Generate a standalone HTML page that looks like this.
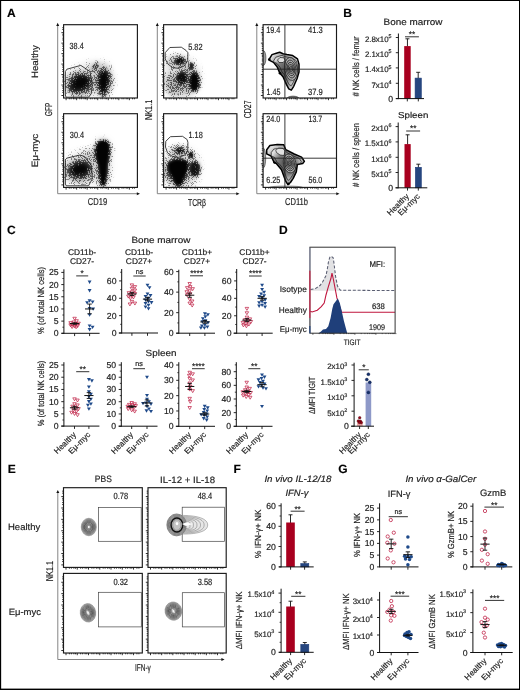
<!DOCTYPE html>
<html><head><meta charset="utf-8"><style>
html,body{margin:0;padding:0;background:#fff;}
text{stroke:#222;stroke-width:0.18px;}
svg{display:block;font-family:"Liberation Sans",sans-serif;will-change:transform;text-rendering:geometricPrecision;}
</style></head><body>
<svg width="520" height="690" viewBox="0 0 520 690" fill="#222">
<defs>
<filter id="b15" x="-50%" y="-50%" width="200%" height="200%"><feGaussianBlur stdDeviation="1.5"/></filter>
<filter id="b12" x="-50%" y="-50%" width="200%" height="200%"><feGaussianBlur stdDeviation="1.2"/></filter>
<filter id="b1" x="-50%" y="-50%" width="200%" height="200%"><feGaussianBlur stdDeviation="0.9"/></filter>
<filter id="g1" x="-100%" y="-100%" width="300%" height="300%"><feGaussianBlur stdDeviation="1"/></filter>
<filter id="g15" x="-100%" y="-100%" width="300%" height="300%"><feGaussianBlur stdDeviation="1.5"/></filter>
<filter id="g2" x="-100%" y="-100%" width="300%" height="300%"><feGaussianBlur stdDeviation="2"/></filter>
<filter id="g25" x="-100%" y="-100%" width="300%" height="300%"><feGaussianBlur stdDeviation="2.5"/></filter>
<filter id="g3" x="-100%" y="-100%" width="300%" height="300%"><feGaussianBlur stdDeviation="3"/></filter>
<filter id="dith" filterUnits="userSpaceOnUse" x="0" y="0" width="520" height="690" color-interpolation-filters="sRGB">
  <feGaussianBlur in="SourceGraphic" stdDeviation="0.4" result="d"/>
  <feTurbulence type="fractalNoise" baseFrequency="1.13 0.97" numOctaves="1" seed="3" result="n"/>
  <feColorMatrix in="n" type="matrix" values="0 0 0 0 0  0 0 0 0 0  0 0 0 0 0  3 0 0 0 -1" result="na"/>
  <feComposite in="d" in2="na" operator="arithmetic" k1="0" k2="7" k3="-6" k4="0.3" result="t"/>
  <feComponentTransfer in="d" result="m"><feFuncA type="linear" slope="40" intercept="-0.2"/></feComponentTransfer>
  <feComposite in="t" in2="m" operator="in" result="t2"/>
  <feComposite in="t2" in2="d" operator="arithmetic" k1="0" k2="0.38" k3="0.62" k4="0" result="mx"/>
  <feColorMatrix in="mx" type="matrix" values="0 0 0 0 0  0 0 0 0 0  0 0 0 0 0  0 0 0 1 0"/>
</filter>
<radialGradient id="gA" cx="0.65" cy="0.5" r="0.65"><stop offset="0" stop-color="#8a8a8a"/><stop offset="0.6" stop-color="#a8a8a8"/><stop offset="1" stop-color="#e0e0e0"/></radialGradient>
<radialGradient id="gE" cx="0.5" cy="0.5" r="0.5"><stop offset="0" stop-color="#fff"/><stop offset="0.12" stop-color="#ccc"/><stop offset="0.3" stop-color="#888"/><stop offset="0.6" stop-color="#7a7a7a"/><stop offset="0.85" stop-color="#a0a0a0"/><stop offset="1" stop-color="#d0d0d0"/></radialGradient>
<radialGradient id="terr" cx="0.5" cy="0.5" r="0.55"><stop offset="0" stop-color="#4a4a4a"/><stop offset="0.6" stop-color="#7e7e7e"/><stop offset="1" stop-color="#dedede"/></radialGradient>
<radialGradient id="gE3" cx="0.5" cy="0.5" r="0.5"><stop offset="0.5" stop-color="#777"/><stop offset="0.8" stop-color="#999"/><stop offset="1" stop-color="#ddd" stop-opacity="0.6"/></radialGradient>
<filter id="b05" x="-100%" y="-100%" width="300%" height="300%"><feGaussianBlur stdDeviation="0.5"/></filter>
<radialGradient id="gE2" cx="0.45" cy="0.5" r="0.6"><stop offset="0" stop-color="#bbb"/><stop offset="0.6" stop-color="#ccc"/><stop offset="1" stop-color="#eee"/></radialGradient>
<clipPath id="c1"><rect x="63.6" y="24.7" width="73.8" height="73.3"/></clipPath>
<clipPath id="c2"><rect x="63.6" y="113.7" width="73.8" height="73.7"/></clipPath>
<clipPath id="c3"><rect x="163.6" y="24.7" width="73.3" height="73.3"/></clipPath>
<clipPath id="c4"><rect x="163.6" y="113.7" width="73.3" height="73.7"/></clipPath>
<clipPath id="c5"><rect x="263.1" y="24.7" width="73.4" height="73.3"/></clipPath>
<clipPath id="c6"><rect x="263.1" y="113.7" width="73.4" height="73.7"/></clipPath>
</defs>
<rect x="0" y="0" width="520" height="690" fill="#fff"/>
<rect x="0" y="0" width="520" height="1" fill="#000"/><rect x="0" y="0" width="1.15" height="690" fill="#000"/><rect x="519" y="0" width="1" height="690" fill="#000"/><rect x="0" y="688.6" width="520" height="1.4" fill="#000"/>
<text x="7" y="16.9" font-size="12" font-weight="bold" fill="#000">A</text>
<text x="343.2" y="17" font-size="12" font-weight="bold" fill="#000">B</text>
<text x="6.9" y="234.2" font-size="12" font-weight="bold" fill="#000">C</text>
<text x="279" y="234" font-size="12" font-weight="bold" fill="#000">D</text>
<text x="7.7" y="473" font-size="12" font-weight="bold" fill="#000">E</text>
<text x="233.4" y="473.4" font-size="12" font-weight="bold" fill="#000">F</text>
<text x="338.2" y="473.1" font-size="12" font-weight="bold" fill="#000">G</text>
<path d="M57.7 25.3 V193.7 H137.5" fill="none" stroke="#777" stroke-width="0.9"/>
<path d="M57.7 22.8 l-1.5 3.2 h3z" fill="#111"/>
<path d="M140 193.7 l-3.2 -1.5 v3z" fill="#111"/>
<path d="M157.3 25.3 V193.7 H237" fill="none" stroke="#777" stroke-width="0.9"/>
<path d="M157.3 22.8 l-1.5 3.2 h3z" fill="#111"/>
<path d="M239.5 193.7 l-3.2 -1.5 v3z" fill="#111"/>
<path d="M256.8 25.3 V193.7 H337" fill="none" stroke="#777" stroke-width="0.9"/>
<path d="M256.8 22.8 l-1.5 3.2 h3z" fill="#111"/>
<path d="M339.5 193.7 l-3.2 -1.5 v3z" fill="#111"/>
<text x="37.9" y="78.1" font-size="9.2" textLength="33" lengthAdjust="spacingAndGlyphs" transform="rotate(-90 37.9 78.1)">Healthy</text>
<text x="37.9" y="167.2" font-size="9.2" textLength="33.4" lengthAdjust="spacingAndGlyphs" transform="rotate(-90 37.9 167.2)">E&#956;-myc</text>
<text x="52.4" y="115.9" font-size="10" textLength="13.1" lengthAdjust="spacingAndGlyphs" transform="rotate(-90 52.4 115.9)">GFP</text>
<text x="151.6" y="120" font-size="10" textLength="20.2" lengthAdjust="spacingAndGlyphs" transform="rotate(-90 151.6 120)">NK1.1</text>
<text x="250.8" y="118.2" font-size="10" textLength="17.8" lengthAdjust="spacingAndGlyphs" transform="rotate(-90 250.8 118.2)">CD27</text>
<text x="87.8" y="205" font-size="10" textLength="19.3" lengthAdjust="spacingAndGlyphs">CD19</text>
<text x="188" y="205.6" font-size="10" textLength="18" lengthAdjust="spacingAndGlyphs">TCR&#946;</text>
<text x="285" y="205.2" font-size="10" textLength="23" lengthAdjust="spacingAndGlyphs">CD11b</text>
<g clip-path="url(#c1)">
<g filter="url(#dith)">
<ellipse cx="90" cy="80" rx="24" ry="17" fill-opacity="0.12" filter="url(#g3)"/>
<ellipse cx="98" cy="67" rx="12" ry="6" fill-opacity="0.14" filter="url(#g3)"/>
<ellipse cx="79.5" cy="84" rx="13.5" ry="12" fill-opacity="0.5" filter="url(#g3)"/>
<ellipse cx="81" cy="82.5" rx="9.5" ry="7.6" fill-opacity="0.92" filter="url(#g25)" transform="rotate(-15 81 82.5)"/>
<ellipse cx="74" cy="88" rx="6" ry="5" fill-opacity="0.5" filter="url(#g2)"/>
<ellipse cx="94.5" cy="67.5" rx="6.5" ry="2.6" fill-opacity="0.38" filter="url(#g15)" transform="rotate(-55 94.5 67.5)"/>
<ellipse cx="95.5" cy="66" rx="2.5" ry="1.2" fill-opacity="0.6" filter="url(#g1)" transform="rotate(-55 95.5 66)"/>
<ellipse cx="103.5" cy="81" rx="8" ry="15" fill-opacity="0.4" filter="url(#g3)"/>
<polygon points="98,77 101.5,70.5 105,69.5 109.5,75 109.5,82 106,92 104.5,97 102.5,97 99.5,90 97.5,84" fill-opacity="0.93" filter="url(#g2)"/>
</g>
</g>
<rect x="63.6" y="24.7" width="73.8" height="73.3" fill="none" stroke="#1a1a1a" stroke-width="1.15"/>
<path d="M63.6 95.5h-2.2M63.6 92.35h-1.3M63.6 90.5h-1.3M63.6 88.18h-1.3M63.6 86.65h-1.3M63.6 85.03h-2.2M63.6 81.88h-1.3M63.6 80.03h-1.3M63.6 77.71h-1.3M63.6 76.18h-1.3M63.6 74.56h-2.2M63.6 71.4h-1.3M63.6 69.56h-1.3M63.6 67.24h-1.3M63.6 65.71h-1.3M63.6 64.09h-2.2M63.6 60.93h-1.3M63.6 59.09h-1.3M63.6 56.77h-1.3M63.6 55.24h-1.3M63.6 53.61h-2.2M63.6 50.46h-1.3M63.6 48.62h-1.3M63.6 46.3h-1.3M63.6 44.76h-1.3M63.6 43.14h-2.2M63.6 39.99h-1.3M63.6 38.15h-1.3M63.6 35.82h-1.3M63.6 34.29h-1.3M63.6 32.67h-2.2M63.6 29.52h-1.3M63.6 27.68h-1.3M66.1 98v2.2M69.27 98v1.3M71.13 98v1.3M73.47 98v1.3M75.01 98v1.3M76.64 98v2.2M79.82 98v1.3M81.67 98v1.3M84.01 98v1.3M85.55 98v1.3M87.19 98v2.2M90.36 98v1.3M92.22 98v1.3M94.55 98v1.3M96.1 98v1.3M97.73 98v2.2M100.9 98v1.3M102.76 98v1.3M105.1 98v1.3M106.64 98v1.3M108.27 98v2.2M111.45 98v1.3M113.3 98v1.3M115.64 98v1.3M117.18 98v1.3M118.81 98v2.2M121.99 98v1.3M123.84 98v1.3M126.18 98v1.3M127.72 98v1.3M129.36 98v2.2M132.53 98v1.3M134.39 98v1.3" stroke="#1a1a1a" stroke-width="0.9"/>
<polygon points="65.4,71.5 66.9,69.2 80.8,65.4 90,71.5 92.3,84.6 91.2,93.8 88.5,97.2 66,97.2 65.4,95" fill="none" stroke="#222" stroke-width="0.85" stroke-linejoin="round"/>
<text x="69.6" y="49.2" font-size="9" textLength="14.1" lengthAdjust="spacingAndGlyphs">38.4</text>
<g clip-path="url(#c2)">
<g filter="url(#dith)">
<ellipse cx="88" cy="167" rx="24" ry="17" fill-opacity="0.12" filter="url(#g3)"/>
<ellipse cx="90" cy="157" rx="8" ry="7" fill-opacity="0.22" filter="url(#g3)"/>
<ellipse cx="79" cy="171" rx="14" ry="11.5" fill-opacity="0.5" filter="url(#g3)"/>
<ellipse cx="80" cy="169.5" rx="10" ry="7" fill-opacity="0.92" filter="url(#g25)" transform="rotate(-12 80 169.5)"/>
<ellipse cx="102.5" cy="152" rx="8.5" ry="13" fill-opacity="0.35" filter="url(#g3)"/>
<ellipse cx="102.5" cy="175" rx="6" ry="10" fill-opacity="0.35" filter="url(#g3)"/>
<polygon points="94.8,150 96.5,143.5 100.5,140 106,140 109.8,144 110,153 108.2,164 107,176 105.5,186 100.5,186 99.2,176 98,166 95.8,158" fill-opacity="0.97" filter="url(#g15)"/>
</g>
</g>
<rect x="63.6" y="113.7" width="73.8" height="73.7" fill="none" stroke="#1a1a1a" stroke-width="1.15"/>
<path d="M63.6 184.9h-2.2M63.6 181.73h-1.3M63.6 179.88h-1.3M63.6 177.54h-1.3M63.6 176h-1.3M63.6 174.37h-2.2M63.6 171.2h-1.3M63.6 169.35h-1.3M63.6 167.01h-1.3M63.6 165.47h-1.3M63.6 163.84h-2.2M63.6 160.67h-1.3M63.6 158.82h-1.3M63.6 156.48h-1.3M63.6 154.95h-1.3M63.6 153.31h-2.2M63.6 150.14h-1.3M63.6 148.29h-1.3M63.6 145.96h-1.3M63.6 144.42h-1.3M63.6 142.79h-2.2M63.6 139.62h-1.3M63.6 137.76h-1.3M63.6 135.43h-1.3M63.6 133.89h-1.3M63.6 132.26h-2.2M63.6 129.09h-1.3M63.6 127.23h-1.3M63.6 124.9h-1.3M63.6 123.36h-1.3M63.6 121.73h-2.2M63.6 118.56h-1.3M63.6 116.71h-1.3M66.1 187.4v2.2M69.27 187.4v1.3M71.13 187.4v1.3M73.47 187.4v1.3M75.01 187.4v1.3M76.64 187.4v2.2M79.82 187.4v1.3M81.67 187.4v1.3M84.01 187.4v1.3M85.55 187.4v1.3M87.19 187.4v2.2M90.36 187.4v1.3M92.22 187.4v1.3M94.55 187.4v1.3M96.1 187.4v1.3M97.73 187.4v2.2M100.9 187.4v1.3M102.76 187.4v1.3M105.1 187.4v1.3M106.64 187.4v1.3M108.27 187.4v2.2M111.45 187.4v1.3M113.3 187.4v1.3M115.64 187.4v1.3M117.18 187.4v1.3M118.81 187.4v2.2M121.99 187.4v1.3M123.84 187.4v1.3M126.18 187.4v1.3M127.72 187.4v1.3M129.36 187.4v2.2M132.53 187.4v1.3M134.39 187.4v1.3" stroke="#1a1a1a" stroke-width="0.9"/>
<polygon points="65.4,159.6 66.9,158.1 80,155 84.6,156.5 91.5,165.8 92.3,178.8 88.5,185.8 66.2,185.8 65.4,184" fill="none" stroke="#222" stroke-width="0.85" stroke-linejoin="round"/>
<text x="69.8" y="138.1" font-size="9" textLength="14.3" lengthAdjust="spacingAndGlyphs">30.4</text>
<g clip-path="url(#c3)">
<g filter="url(#dith)">
<ellipse cx="182" cy="78" rx="18" ry="21" fill-opacity="0.2" filter="url(#g3)"/>
<ellipse cx="176" cy="61" rx="10" ry="6" fill-opacity="0.3" filter="url(#g25)"/>
<ellipse cx="180" cy="61" rx="5" ry="3.5" fill-opacity="0.88" filter="url(#g15)" transform="rotate(-10 180 61)"/>
<ellipse cx="182" cy="78" rx="5.5" ry="6" fill-opacity="0.85" filter="url(#g15)"/>
<ellipse cx="194.5" cy="82" rx="5.2" ry="10" fill-opacity="0.95" filter="url(#g15)"/>
<ellipse cx="191.3" cy="66" rx="2.6" ry="3.4" fill-opacity="0.75" filter="url(#g1)"/>
<ellipse cx="188" cy="80" rx="11" ry="13" fill-opacity="0.3" filter="url(#g25)"/>
<ellipse cx="173" cy="85" rx="8" ry="11" fill-opacity="0.3" filter="url(#g25)"/>
</g>
</g>
<rect x="163.6" y="24.7" width="73.3" height="73.3" fill="none" stroke="#1a1a1a" stroke-width="1.15"/>
<path d="M163.6 95.5h-2.2M163.6 92.35h-1.3M163.6 90.5h-1.3M163.6 88.18h-1.3M163.6 86.65h-1.3M163.6 85.03h-2.2M163.6 81.88h-1.3M163.6 80.03h-1.3M163.6 77.71h-1.3M163.6 76.18h-1.3M163.6 74.56h-2.2M163.6 71.4h-1.3M163.6 69.56h-1.3M163.6 67.24h-1.3M163.6 65.71h-1.3M163.6 64.09h-2.2M163.6 60.93h-1.3M163.6 59.09h-1.3M163.6 56.77h-1.3M163.6 55.24h-1.3M163.6 53.61h-2.2M163.6 50.46h-1.3M163.6 48.62h-1.3M163.6 46.3h-1.3M163.6 44.76h-1.3M163.6 43.14h-2.2M163.6 39.99h-1.3M163.6 38.15h-1.3M163.6 35.82h-1.3M163.6 34.29h-1.3M163.6 32.67h-2.2M163.6 29.52h-1.3M163.6 27.68h-1.3M166.1 98v2.2M169.25 98v1.3M171.1 98v1.3M173.42 98v1.3M174.95 98v1.3M176.57 98v2.2M179.72 98v1.3M181.57 98v1.3M183.89 98v1.3M185.42 98v1.3M187.04 98v2.2M190.2 98v1.3M192.04 98v1.3M194.36 98v1.3M195.89 98v1.3M197.51 98v2.2M200.67 98v1.3M202.51 98v1.3M204.83 98v1.3M206.36 98v1.3M207.99 98v2.2M211.14 98v1.3M212.98 98v1.3M215.3 98v1.3M216.84 98v1.3M218.46 98v2.2M221.61 98v1.3M223.45 98v1.3M225.78 98v1.3M227.31 98v1.3M228.93 98v2.2M232.08 98v1.3M233.92 98v1.3" stroke="#1a1a1a" stroke-width="0.9"/>
<polygon points="165.2,52.7 169.8,47.5 181.3,47.2 186,50.4 187.9,52.7 187.7,60.8 184.2,66 178.5,68.3 172.7,67.7 168.1,64.2 165.2,59" fill="none" stroke="#222" stroke-width="0.85" stroke-linejoin="round"/>
<text x="188.2" y="49.6" font-size="9" textLength="14.4" lengthAdjust="spacingAndGlyphs">5.82</text>
<g clip-path="url(#c4)">
<g filter="url(#dith)">
<ellipse cx="182" cy="168" rx="18" ry="21" fill-opacity="0.2" filter="url(#g3)"/>
<ellipse cx="178" cy="151" rx="9" ry="5" fill-opacity="0.3" filter="url(#g25)"/>
<ellipse cx="180" cy="150.5" rx="4.5" ry="3" fill-opacity="0.8" filter="url(#g15)"/>
<ellipse cx="191" cy="155" rx="2.8" ry="3.5" fill-opacity="0.85" filter="url(#g1)"/>
<ellipse cx="194.8" cy="169" rx="5.5" ry="8" fill-opacity="0.85" filter="url(#g15)"/>
<ellipse cx="177" cy="172" rx="13" ry="13" fill-opacity="0.42" filter="url(#g25)"/>
<polygon points="167.5,163 175,159 184,159.5 189,162 187.5,171 184,179 181.5,186 176,186 172,178 168,170" fill-opacity="0.97" filter="url(#g15)"/>
</g>
</g>
<rect x="163.6" y="113.7" width="73.3" height="73.7" fill="none" stroke="#1a1a1a" stroke-width="1.15"/>
<path d="M163.6 184.9h-2.2M163.6 181.73h-1.3M163.6 179.88h-1.3M163.6 177.54h-1.3M163.6 176h-1.3M163.6 174.37h-2.2M163.6 171.2h-1.3M163.6 169.35h-1.3M163.6 167.01h-1.3M163.6 165.47h-1.3M163.6 163.84h-2.2M163.6 160.67h-1.3M163.6 158.82h-1.3M163.6 156.48h-1.3M163.6 154.95h-1.3M163.6 153.31h-2.2M163.6 150.14h-1.3M163.6 148.29h-1.3M163.6 145.96h-1.3M163.6 144.42h-1.3M163.6 142.79h-2.2M163.6 139.62h-1.3M163.6 137.76h-1.3M163.6 135.43h-1.3M163.6 133.89h-1.3M163.6 132.26h-2.2M163.6 129.09h-1.3M163.6 127.23h-1.3M163.6 124.9h-1.3M163.6 123.36h-1.3M163.6 121.73h-2.2M163.6 118.56h-1.3M163.6 116.71h-1.3M166.1 187.4v2.2M169.25 187.4v1.3M171.1 187.4v1.3M173.42 187.4v1.3M174.95 187.4v1.3M176.57 187.4v2.2M179.72 187.4v1.3M181.57 187.4v1.3M183.89 187.4v1.3M185.42 187.4v1.3M187.04 187.4v2.2M190.2 187.4v1.3M192.04 187.4v1.3M194.36 187.4v1.3M195.89 187.4v1.3M197.51 187.4v2.2M200.67 187.4v1.3M202.51 187.4v1.3M204.83 187.4v1.3M206.36 187.4v1.3M207.99 187.4v2.2M211.14 187.4v1.3M212.98 187.4v1.3M215.3 187.4v1.3M216.84 187.4v1.3M218.46 187.4v2.2M221.61 187.4v1.3M223.45 187.4v1.3M225.78 187.4v1.3M227.31 187.4v1.3M228.93 187.4v2.2M232.08 187.4v1.3M233.92 187.4v1.3" stroke="#1a1a1a" stroke-width="0.9"/>
<polygon points="165.8,141.3 170.4,136.7 182.5,136.3 187.1,139.5 187.9,142.4 187.7,151.1 184.8,155.1 178.5,157.4 172.1,156.3 167.5,152.8 165.5,147" fill="none" stroke="#222" stroke-width="0.85" stroke-linejoin="round"/>
<text x="188.5" y="138.2" font-size="9" textLength="14.3" lengthAdjust="spacingAndGlyphs">1.18</text>
<g clip-path="url(#c5)">
<ellipse cx="263.3" cy="58" rx="2.6" ry="7.5" fill="#a0a0a0" stroke="#333" stroke-width="0.6"/>
<ellipse cx="293" cy="98.6" rx="6" ry="2.4" fill="#8a8a8a" stroke="#222" stroke-width="0.7"/>
<polygon points="269.1,59.4 272,54.6 276.3,53.2 279.7,52.2 283,53.7 286.9,54.6 292.7,55.6 297.5,58.9 299,64.2 299,72 297,78.7 293.7,86.3 291.3,90.2 288.8,88.8 286.4,84.4 283,76.7 279.7,72.9 277.3,67.1 273.5,62.3 269.6,60.4" fill="url(#terr)" stroke="#000" stroke-width="1.5" stroke-linejoin="round"/>
<polygon points="273.48,61.12 275.8,57.28 279.24,56.16 281.96,55.36 284.6,56.56 287.72,57.28 292.36,58.08 296.2,60.72 297.4,64.96 297.4,71.2 295.8,76.56 293.16,82.64 291.24,85.76 289.24,84.64 287.32,81.12 284.6,74.96 281.96,71.92 280.04,67.28 277,63.44 273.88,61.92" fill="url(#terr)" stroke="#1a1a1a" stroke-width="0.7" stroke-linejoin="round"/>
<polygon points="277.5,60 280,57.5 284,57.8 285,60.5 283,62.5 279,62.5" fill="#e0e0e0" stroke="#1a1a1a" stroke-width="0.7" stroke-linejoin="round"/>
<ellipse cx="291" cy="69" rx="6.2" ry="11.5" fill="url(#terr)" stroke="#111" stroke-width="0.7" transform="rotate(-8 291 69)"/>
<ellipse cx="291" cy="69" rx="4.84" ry="8.97" fill="url(#terr)" stroke="#111" stroke-width="0.7" transform="rotate(-8 291 69)"/>
<ellipse cx="291" cy="69" rx="3.6" ry="6.67" fill="url(#terr)" stroke="#111" stroke-width="0.7" transform="rotate(-8 291 69)"/>
<ellipse cx="291" cy="69" rx="2.48" ry="4.6" fill="url(#terr)" stroke="#111" stroke-width="0.7" transform="rotate(-8 291 69)"/>
<ellipse cx="291" cy="69" rx="1.49" ry="2.76" fill="url(#terr)" stroke="#111" stroke-width="0.7" transform="rotate(-8 291 69)"/>
<circle cx="269.3" cy="59.6" r="1.3" fill="#000"/><circle cx="280" cy="73.3" r="1.3" fill="#000"/>
</g>
<rect x="263.1" y="24.7" width="73.4" height="73.3" fill="none" stroke="#1a1a1a" stroke-width="1.15"/>
<path d="M263.1 95.5h-2.2M263.1 92.35h-1.3M263.1 90.5h-1.3M263.1 88.18h-1.3M263.1 86.65h-1.3M263.1 85.03h-2.2M263.1 81.88h-1.3M263.1 80.03h-1.3M263.1 77.71h-1.3M263.1 76.18h-1.3M263.1 74.56h-2.2M263.1 71.4h-1.3M263.1 69.56h-1.3M263.1 67.24h-1.3M263.1 65.71h-1.3M263.1 64.09h-2.2M263.1 60.93h-1.3M263.1 59.09h-1.3M263.1 56.77h-1.3M263.1 55.24h-1.3M263.1 53.61h-2.2M263.1 50.46h-1.3M263.1 48.62h-1.3M263.1 46.3h-1.3M263.1 44.76h-1.3M263.1 43.14h-2.2M263.1 39.99h-1.3M263.1 38.15h-1.3M263.1 35.82h-1.3M263.1 34.29h-1.3M263.1 32.67h-2.2M263.1 29.52h-1.3M263.1 27.68h-1.3M265.6 98v2.2M268.76 98v1.3M270.6 98v1.3M272.93 98v1.3M274.46 98v1.3M276.09 98v2.2M279.24 98v1.3M281.09 98v1.3M283.41 98v1.3M284.95 98v1.3M286.57 98v2.2M289.73 98v1.3M291.57 98v1.3M293.9 98v1.3M295.43 98v1.3M297.06 98v2.2M300.21 98v1.3M302.06 98v1.3M304.39 98v1.3M305.92 98v1.3M307.54 98v2.2M310.7 98v1.3M312.55 98v1.3M314.87 98v1.3M316.4 98v1.3M318.03 98v2.2M321.19 98v1.3M323.03 98v1.3M325.36 98v1.3M326.89 98v1.3M328.51 98v2.2M331.67 98v1.3M333.52 98v1.3" stroke="#1a1a1a" stroke-width="0.9"/>
<line x1="284.9" y1="24.7" x2="284.9" y2="98" stroke="#222" stroke-width="0.9"/>
<line x1="263.1" y1="69.2" x2="336.5" y2="69.2" stroke="#222" stroke-width="0.9"/>
<text x="266.2" y="33.4" font-size="9" textLength="14.2" lengthAdjust="spacingAndGlyphs">19.4</text>
<text x="308" y="33.4" font-size="9" textLength="14.8" lengthAdjust="spacingAndGlyphs">41.3</text>
<text x="266.6" y="94.6" font-size="9" textLength="13.9" lengthAdjust="spacingAndGlyphs">1.45</text>
<text x="308" y="94.6" font-size="9" textLength="14.8" lengthAdjust="spacingAndGlyphs">37.9</text>
<g clip-path="url(#c6)">
<ellipse cx="263.3" cy="158" rx="2.4" ry="10" fill="#a8a8a8" stroke="#333" stroke-width="0.6"/>
<ellipse cx="286" cy="187.6" rx="17" ry="1.6" fill="#b0b0b0" stroke="#444" stroke-width="0.5"/>
<polygon points="266.7,149.7 269.9,145.5 277.3,144.4 283.7,144.8 285.8,149.7 294.2,154 301.6,157.1 304.4,161.4 302.7,163.5 297.4,164.5 296.3,171.9 293.2,178.3 290.4,182.5 287.9,184.6 285.8,181.4 281.5,169.8 276.3,163.5 274.1,162.4 271,156 266.7,153.9" fill="url(#terr)" stroke="#000" stroke-width="1.5" stroke-linejoin="round"/>
<polygon points="271.26,152.46 273.82,149.1 279.74,148.22 284.86,148.54 286.54,152.46 293.26,155.9 299.18,158.38 301.42,161.82 300.06,163.5 295.82,164.3 294.94,170.22 292.46,175.34 290.22,178.7 288.22,180.38 286.54,177.82 283.1,168.54 278.94,163.5 277.18,162.62 274.7,157.5 271.26,155.82" fill="url(#terr)" stroke="#1a1a1a" stroke-width="0.7" stroke-linejoin="round"/>
<polygon points="275.8,150.5 278,148.3 283,148.5 285,151 284,155.5 280,155 276.5,152.5" fill="#e0e0e0" stroke="#1a1a1a" stroke-width="0.7" stroke-linejoin="round"/>
<ellipse cx="289.6" cy="163.5" rx="6.2" ry="9.5" fill="url(#terr)" stroke="#111" stroke-width="0.7" transform="rotate(-10 289.6 163.5)"/>
<ellipse cx="289.6" cy="163.5" rx="4.84" ry="7.41" fill="url(#terr)" stroke="#111" stroke-width="0.7" transform="rotate(-10 289.6 163.5)"/>
<ellipse cx="289.6" cy="163.5" rx="3.6" ry="5.51" fill="url(#terr)" stroke="#111" stroke-width="0.7" transform="rotate(-10 289.6 163.5)"/>
<ellipse cx="289.6" cy="163.5" rx="2.48" ry="3.8" fill="url(#terr)" stroke="#111" stroke-width="0.7" transform="rotate(-10 289.6 163.5)"/>
<ellipse cx="289.6" cy="163.5" rx="1.49" ry="2.28" fill="url(#terr)" stroke="#111" stroke-width="0.7" transform="rotate(-10 289.6 163.5)"/>
<circle cx="274.5" cy="162.6" r="1.2" fill="#000"/><circle cx="288.5" cy="183.8" r="1.3" fill="#000"/>
</g>
<rect x="263.1" y="113.7" width="73.4" height="73.7" fill="none" stroke="#1a1a1a" stroke-width="1.15"/>
<path d="M263.1 184.9h-2.2M263.1 181.73h-1.3M263.1 179.88h-1.3M263.1 177.54h-1.3M263.1 176h-1.3M263.1 174.37h-2.2M263.1 171.2h-1.3M263.1 169.35h-1.3M263.1 167.01h-1.3M263.1 165.47h-1.3M263.1 163.84h-2.2M263.1 160.67h-1.3M263.1 158.82h-1.3M263.1 156.48h-1.3M263.1 154.95h-1.3M263.1 153.31h-2.2M263.1 150.14h-1.3M263.1 148.29h-1.3M263.1 145.96h-1.3M263.1 144.42h-1.3M263.1 142.79h-2.2M263.1 139.62h-1.3M263.1 137.76h-1.3M263.1 135.43h-1.3M263.1 133.89h-1.3M263.1 132.26h-2.2M263.1 129.09h-1.3M263.1 127.23h-1.3M263.1 124.9h-1.3M263.1 123.36h-1.3M263.1 121.73h-2.2M263.1 118.56h-1.3M263.1 116.71h-1.3M265.6 187.4v2.2M268.76 187.4v1.3M270.6 187.4v1.3M272.93 187.4v1.3M274.46 187.4v1.3M276.09 187.4v2.2M279.24 187.4v1.3M281.09 187.4v1.3M283.41 187.4v1.3M284.95 187.4v1.3M286.57 187.4v2.2M289.73 187.4v1.3M291.57 187.4v1.3M293.9 187.4v1.3M295.43 187.4v1.3M297.06 187.4v2.2M300.21 187.4v1.3M302.06 187.4v1.3M304.39 187.4v1.3M305.92 187.4v1.3M307.54 187.4v2.2M310.7 187.4v1.3M312.55 187.4v1.3M314.87 187.4v1.3M316.4 187.4v1.3M318.03 187.4v2.2M321.19 187.4v1.3M323.03 187.4v1.3M325.36 187.4v1.3M326.89 187.4v1.3M328.51 187.4v2.2M331.67 187.4v1.3M333.52 187.4v1.3" stroke="#1a1a1a" stroke-width="0.9"/>
<line x1="284.9" y1="113.7" x2="284.9" y2="187.4" stroke="#222" stroke-width="0.9"/>
<line x1="263.1" y1="158.2" x2="336.5" y2="158.2" stroke="#222" stroke-width="0.9"/>
<text x="266.2" y="122.2" font-size="9" textLength="14.2" lengthAdjust="spacingAndGlyphs">24.0</text>
<text x="308.5" y="122.2" font-size="9" textLength="13.7" lengthAdjust="spacingAndGlyphs">13.7</text>
<text x="266.2" y="183.1" font-size="9" textLength="14.2" lengthAdjust="spacingAndGlyphs">6.25</text>
<text x="308.5" y="183.1" font-size="9" textLength="13.7" lengthAdjust="spacingAndGlyphs">56.0</text>
<text x="383.6" y="24.9" font-size="9.2" textLength="58.8" lengthAdjust="spacingAndGlyphs">Bone marrow</text>
<text x="398" y="117.6" font-size="8.6" textLength="30.4" lengthAdjust="spacingAndGlyphs">Spleen</text>
<line x1="407.45" y1="38.8" x2="407.45" y2="46.6" stroke="#111" stroke-width="0.9"/>
<line x1="405.45" y1="38.8" x2="409.45" y2="38.8" stroke="#111" stroke-width="0.9"/>
<rect x="404.2" y="46.1" width="6.5" height="52.5" fill="#a8001f"/>
<line x1="418.2" y1="72.3" x2="418.2" y2="78.6" stroke="#111" stroke-width="0.9"/>
<line x1="416.2" y1="72.3" x2="420.2" y2="72.3" stroke="#111" stroke-width="0.9"/>
<rect x="415.1" y="78.1" width="6.2" height="20.5" fill="#26467f" stroke="#1a3a78" stroke-width="0.6"/>
<line x1="398.4" y1="33.5" x2="398.4" y2="99.1" stroke="#111" stroke-width="1"/>
<line x1="395.8" y1="37.5" x2="398.4" y2="37.5" stroke="#111" stroke-width="0.9"/>
<text x="391.6" y="41.8" font-size="7.9" text-anchor="end">2.8x10<tspan dy="-3.6" font-size="5.4">5</tspan></text>
<line x1="395.8" y1="52.7" x2="398.4" y2="52.7" stroke="#111" stroke-width="0.9"/>
<text x="391.6" y="57" font-size="7.9" text-anchor="end">2.1x10<tspan dy="-3.6" font-size="5.4">5</tspan></text>
<line x1="395.8" y1="67.9" x2="398.4" y2="67.9" stroke="#111" stroke-width="0.9"/>
<text x="391.6" y="72.2" font-size="7.9" text-anchor="end">1.4x10<tspan dy="-3.6" font-size="5.4">5</tspan></text>
<line x1="395.8" y1="83.3" x2="398.4" y2="83.3" stroke="#111" stroke-width="0.9"/>
<text x="391.6" y="87.6" font-size="7.9" text-anchor="end">7x10<tspan dy="-3.6" font-size="5.4">4</tspan></text>
<line x1="395.8" y1="98.6" x2="398.4" y2="98.6" stroke="#111" stroke-width="0.9"/>
<text x="393.2" y="101.6" font-size="8.7" text-anchor="end">0</text>
<line x1="395.9" y1="98.6" x2="424" y2="98.6" stroke="#111" stroke-width="1"/>
<line x1="407.3" y1="98.6" x2="407.3" y2="101.4" stroke="#111" stroke-width="0.9"/>
<line x1="418.3" y1="98.6" x2="418.3" y2="101.4" stroke="#111" stroke-width="0.9"/>
<line x1="405" y1="36.8" x2="418.9" y2="36.8" stroke="#333" stroke-width="1"/>
<text x="411.95" y="37.2" font-size="8.2" text-anchor="middle">**</text>
<line x1="407.6" y1="134.8" x2="407.6" y2="144.6" stroke="#111" stroke-width="0.9"/>
<line x1="405.6" y1="134.8" x2="409.6" y2="134.8" stroke="#111" stroke-width="0.9"/>
<rect x="404.5" y="144.1" width="6.2" height="43.7" fill="#a8001f"/>
<line x1="418.35" y1="164.2" x2="418.35" y2="167.8" stroke="#111" stroke-width="0.9"/>
<line x1="416.35" y1="164.2" x2="420.35" y2="164.2" stroke="#111" stroke-width="0.9"/>
<rect x="415.4" y="167.3" width="5.9" height="20.5" fill="#26467f" stroke="#1a3a78" stroke-width="0.6"/>
<line x1="398.2" y1="122.5" x2="398.2" y2="188.3" stroke="#111" stroke-width="1"/>
<line x1="395.6" y1="126.6" x2="398.2" y2="126.6" stroke="#111" stroke-width="0.9"/>
<text x="391.4" y="130.9" font-size="7.9" text-anchor="end">2x10<tspan dy="-3.6" font-size="5.4">6</tspan></text>
<line x1="395.6" y1="141.9" x2="398.2" y2="141.9" stroke="#111" stroke-width="0.9"/>
<text x="391.4" y="146.2" font-size="7.9" text-anchor="end">1.5x10<tspan dy="-3.6" font-size="5.4">6</tspan></text>
<line x1="395.6" y1="157.3" x2="398.2" y2="157.3" stroke="#111" stroke-width="0.9"/>
<text x="391.4" y="161.6" font-size="7.9" text-anchor="end">1x10<tspan dy="-3.6" font-size="5.4">6</tspan></text>
<line x1="395.6" y1="172.5" x2="398.2" y2="172.5" stroke="#111" stroke-width="0.9"/>
<text x="391.4" y="176.8" font-size="7.9" text-anchor="end">5x10<tspan dy="-3.6" font-size="5.4">5</tspan></text>
<line x1="395.6" y1="187.8" x2="398.2" y2="187.8" stroke="#111" stroke-width="0.9"/>
<text x="393" y="190.8" font-size="8.7" text-anchor="end">0</text>
<line x1="395.6" y1="187.8" x2="427.3" y2="187.8" stroke="#111" stroke-width="1"/>
<line x1="407.5" y1="187.8" x2="407.5" y2="190.6" stroke="#111" stroke-width="0.9"/>
<line x1="418.3" y1="187.8" x2="418.3" y2="190.6" stroke="#111" stroke-width="0.9"/>
<line x1="406.2" y1="131" x2="420.1" y2="131" stroke="#333" stroke-width="1"/>
<text x="413.15" y="131.4" font-size="8.2" text-anchor="middle">**</text>
<text x="359.4" y="96.5" font-size="9" textLength="60" lengthAdjust="spacingAndGlyphs" transform="rotate(-90 359.4 96.5)"># NK cells / femur</text>
<text x="359.4" y="187" font-size="9" textLength="64" lengthAdjust="spacingAndGlyphs" transform="rotate(-90 359.4 187)"># NK cells / spleen</text>
<text x="409.5" y="196.8" font-size="8" text-anchor="end" transform="rotate(-45 409.5 196.8)">Healthy</text>
<text x="420.3" y="196.8" font-size="8" text-anchor="end" transform="rotate(-45 420.3 196.8)">E&#956;-myc</text>
<text x="131.5" y="242.7" font-size="9" textLength="58.8" lengthAdjust="spacingAndGlyphs">Bone marrow</text>
<text x="145.6" y="355.5" font-size="9" textLength="30.8" lengthAdjust="spacingAndGlyphs">Spleen</text>
<text x="82" y="255.2" font-size="8.4" text-anchor="middle">CD11b-</text>
<text x="82" y="264.1" font-size="8.4" text-anchor="middle">CD27-</text>
<text x="139" y="255.2" font-size="8.4" text-anchor="middle">CD11b-</text>
<text x="139" y="264.1" font-size="8.4" text-anchor="middle">CD27+</text>
<text x="197" y="255.2" font-size="8.4" text-anchor="middle">CD11b+</text>
<text x="197" y="264.1" font-size="8.4" text-anchor="middle">CD27+</text>
<text x="254.5" y="255.2" font-size="8.4" text-anchor="middle">CD11b+</text>
<text x="254.5" y="264.1" font-size="8.4" text-anchor="middle">CD27-</text>
<text x="44" y="334" font-size="9" textLength="67" lengthAdjust="spacingAndGlyphs" transform="rotate(-90 44 334)">% (of total NK cells)</text>
<text x="44" y="426.3" font-size="9" textLength="65.6" lengthAdjust="spacingAndGlyphs" transform="rotate(-90 44 426.3)">% (of total NK cells)</text>
<line x1="63.9" y1="269.3" x2="63.9" y2="333.8" stroke="#111" stroke-width="1"/>
<line x1="61.3" y1="333.3" x2="63.9" y2="333.3" stroke="#111" stroke-width="0.9"/>
<text x="58.7" y="336.3" font-size="8.7" text-anchor="end">0</text>
<line x1="61.3" y1="321.12" x2="63.9" y2="321.12" stroke="#111" stroke-width="0.9"/>
<text x="58.7" y="324.12" font-size="8.7" text-anchor="end">5</text>
<line x1="61.3" y1="308.94" x2="63.9" y2="308.94" stroke="#111" stroke-width="0.9"/>
<text x="58.7" y="311.94" font-size="8.7" text-anchor="end">10</text>
<line x1="61.3" y1="296.76" x2="63.9" y2="296.76" stroke="#111" stroke-width="0.9"/>
<text x="58.7" y="299.76" font-size="8.7" text-anchor="end">15</text>
<line x1="61.3" y1="284.58" x2="63.9" y2="284.58" stroke="#111" stroke-width="0.9"/>
<text x="58.7" y="287.58" font-size="8.7" text-anchor="end">20</text>
<line x1="61.3" y1="272.4" x2="63.9" y2="272.4" stroke="#111" stroke-width="0.9"/>
<text x="58.7" y="275.4" font-size="8.7" text-anchor="end">25</text>
<line x1="62.4" y1="327.21" x2="63.9" y2="327.21" stroke="#111" stroke-width="0.8"/>
<line x1="62.4" y1="315.03" x2="63.9" y2="315.03" stroke="#111" stroke-width="0.8"/>
<line x1="62.4" y1="302.85" x2="63.9" y2="302.85" stroke="#111" stroke-width="0.8"/>
<line x1="62.4" y1="290.67" x2="63.9" y2="290.67" stroke="#111" stroke-width="0.8"/>
<line x1="62.4" y1="278.49" x2="63.9" y2="278.49" stroke="#111" stroke-width="0.8"/>
<line x1="61.5" y1="333.3" x2="99.6" y2="333.3" stroke="#111" stroke-width="1"/>
<line x1="74.6" y1="333.3" x2="74.6" y2="336.1" stroke="#111" stroke-width="0.9"/>
<line x1="89.6" y1="333.3" x2="89.6" y2="336.1" stroke="#111" stroke-width="0.9"/>
<line x1="76.2" y1="275.9" x2="88.2" y2="275.9" stroke="#333" stroke-width="1"/>
<text x="82.2" y="276.3" font-size="8.2" text-anchor="middle">*</text>
<polygon points="72.85,317.28 76.35,317.28 74.6,320.26" fill="none" stroke="#c0264a" stroke-width="0.75"/>
<polygon points="74.85,319.72 78.35,319.72 76.6,322.69" fill="none" stroke="#c0264a" stroke-width="0.75"/>
<polygon points="71.85,320.94 75.35,320.94 73.6,323.91" fill="none" stroke="#c0264a" stroke-width="0.75"/>
<polygon points="68.85,321.67 72.35,321.67 70.6,324.64" fill="none" stroke="#c0264a" stroke-width="0.75"/>
<polygon points="76.85,322.16 80.35,322.16 78.6,325.13" fill="none" stroke="#c0264a" stroke-width="0.75"/>
<polygon points="73.85,322.64 77.35,322.64 75.6,325.62" fill="none" stroke="#c0264a" stroke-width="0.75"/>
<polygon points="70.85,323.37 74.35,323.37 72.6,326.35" fill="none" stroke="#c0264a" stroke-width="0.75"/>
<polygon points="68.85,323.86 72.35,323.86 70.6,326.84" fill="none" stroke="#c0264a" stroke-width="0.75"/>
<polygon points="75.85,324.59 79.35,324.59 77.6,327.57" fill="none" stroke="#c0264a" stroke-width="0.75"/>
<polygon points="72.85,325.08 76.35,325.08 74.6,328.05" fill="none" stroke="#c0264a" stroke-width="0.75"/>
<polygon points="70.35,325.57 73.85,325.57 72.1,328.54" fill="none" stroke="#c0264a" stroke-width="0.75"/>
<polygon points="74.35,325.81 77.85,325.81 76.1,328.79" fill="none" stroke="#c0264a" stroke-width="0.75"/>
<line x1="70" y1="323.56" x2="79.2" y2="323.56" stroke="#111" stroke-width="1"/>
<line x1="74.6" y1="322.83" x2="74.6" y2="324.29" stroke="#111" stroke-width="0.9"/>
<line x1="72.4" y1="322.83" x2="76.8" y2="322.83" stroke="#111" stroke-width="0.9"/>
<line x1="72.4" y1="324.29" x2="76.8" y2="324.29" stroke="#111" stroke-width="0.9"/>
<polygon points="87.65,280.58 91.55,280.58 89.6,283.9" fill="#1f4a8a"/>
<polygon points="87.65,289.11 91.55,289.11 89.6,292.43" fill="#1f4a8a"/>
<polygon points="87.65,299.34 91.55,299.34 89.6,302.66" fill="#1f4a8a"/>
<polygon points="90.65,300.56 94.55,300.56 92.6,303.87" fill="#1f4a8a"/>
<polygon points="85.15,301.29 89.05,301.29 87.1,304.61" fill="#1f4a8a"/>
<polygon points="87.65,306.89 91.55,306.89 89.6,310.21" fill="#1f4a8a"/>
<polygon points="91.15,307.38 95.05,307.38 93.1,310.69" fill="#1f4a8a"/>
<polygon points="87.65,313.47 91.55,313.47 89.6,316.79" fill="#1f4a8a"/>
<polygon points="87.65,324.43 91.55,324.43 89.6,327.75" fill="#1f4a8a"/>
<polygon points="90.65,325.65 94.55,325.65 92.6,328.97" fill="#1f4a8a"/>
<polygon points="87.65,328.09 91.55,328.09 89.6,331.4" fill="#1f4a8a"/>
<line x1="85" y1="308.94" x2="94.2" y2="308.94" stroke="#111" stroke-width="1"/>
<line x1="89.6" y1="304.07" x2="89.6" y2="313.81" stroke="#111" stroke-width="0.9"/>
<line x1="87.4" y1="304.07" x2="91.8" y2="304.07" stroke="#111" stroke-width="0.9"/>
<line x1="87.4" y1="313.81" x2="91.8" y2="313.81" stroke="#111" stroke-width="0.9"/>
<line x1="121.7" y1="269" x2="121.7" y2="333.5" stroke="#111" stroke-width="1"/>
<line x1="119.1" y1="333" x2="121.7" y2="333" stroke="#111" stroke-width="0.9"/>
<text x="116.5" y="336" font-size="8.7" text-anchor="end">0</text>
<line x1="119.1" y1="315.64" x2="121.7" y2="315.64" stroke="#111" stroke-width="0.9"/>
<text x="116.5" y="318.64" font-size="8.7" text-anchor="end">20</text>
<line x1="119.1" y1="298.28" x2="121.7" y2="298.28" stroke="#111" stroke-width="0.9"/>
<text x="116.5" y="301.28" font-size="8.7" text-anchor="end">40</text>
<line x1="119.1" y1="280.92" x2="121.7" y2="280.92" stroke="#111" stroke-width="0.9"/>
<text x="116.5" y="283.92" font-size="8.7" text-anchor="end">60</text>
<line x1="120.2" y1="324.32" x2="121.7" y2="324.32" stroke="#111" stroke-width="0.8"/>
<line x1="120.2" y1="306.96" x2="121.7" y2="306.96" stroke="#111" stroke-width="0.8"/>
<line x1="120.2" y1="289.6" x2="121.7" y2="289.6" stroke="#111" stroke-width="0.8"/>
<line x1="120.2" y1="272.24" x2="121.7" y2="272.24" stroke="#111" stroke-width="0.8"/>
<line x1="118.8" y1="333" x2="158" y2="333" stroke="#111" stroke-width="1"/>
<line x1="131.9" y1="333" x2="131.9" y2="335.8" stroke="#111" stroke-width="0.9"/>
<line x1="147.5" y1="333" x2="147.5" y2="335.8" stroke="#111" stroke-width="0.9"/>
<line x1="133.3" y1="276" x2="145.7" y2="276" stroke="#333" stroke-width="1"/>
<text x="139.5" y="273.6" font-size="7.2" text-anchor="middle">ns</text>
<polygon points="130.15,283.86 133.65,283.86 131.9,286.83" fill="none" stroke="#c0264a" stroke-width="0.75"/>
<polygon points="133.15,285.6 136.65,285.6 134.9,288.57" fill="none" stroke="#c0264a" stroke-width="0.75"/>
<polygon points="130.15,287.33 133.65,287.33 131.9,290.31" fill="none" stroke="#c0264a" stroke-width="0.75"/>
<polygon points="133.15,289.07 136.65,289.07 134.9,292.04" fill="none" stroke="#c0264a" stroke-width="0.75"/>
<polygon points="130.15,290.8 133.65,290.8 131.9,293.78" fill="none" stroke="#c0264a" stroke-width="0.75"/>
<polygon points="127.15,291.67 130.65,291.67 128.9,294.65" fill="none" stroke="#c0264a" stroke-width="0.75"/>
<polygon points="133.15,292.54 136.65,292.54 134.9,295.51" fill="none" stroke="#c0264a" stroke-width="0.75"/>
<polygon points="129.65,293.41 133.15,293.41 131.4,296.38" fill="none" stroke="#c0264a" stroke-width="0.75"/>
<polygon points="126.65,295.14 130.15,295.14 128.4,298.12" fill="none" stroke="#c0264a" stroke-width="0.75"/>
<polygon points="131.65,296.01 135.15,296.01 133.4,298.99" fill="none" stroke="#c0264a" stroke-width="0.75"/>
<polygon points="128.65,296.88 132.15,296.88 130.4,299.85" fill="none" stroke="#c0264a" stroke-width="0.75"/>
<polygon points="130.15,300.35 133.65,300.35 131.9,303.33" fill="none" stroke="#c0264a" stroke-width="0.75"/>
<polygon points="133.15,302.09 136.65,302.09 134.9,305.06" fill="none" stroke="#c0264a" stroke-width="0.75"/>
<polygon points="128.15,302.96 131.65,302.96 129.9,305.93" fill="none" stroke="#c0264a" stroke-width="0.75"/>
<line x1="127.3" y1="293.94" x2="136.5" y2="293.94" stroke="#111" stroke-width="1"/>
<line x1="131.9" y1="292.38" x2="131.9" y2="295.5" stroke="#111" stroke-width="0.9"/>
<line x1="129.7" y1="292.38" x2="134.1" y2="292.38" stroke="#111" stroke-width="0.9"/>
<line x1="129.7" y1="295.5" x2="134.1" y2="295.5" stroke="#111" stroke-width="0.9"/>
<polygon points="145.55,283.7 149.45,283.7 147.5,287.01" fill="#1f4a8a"/>
<polygon points="147.55,286.3 151.45,286.3 149.5,289.62" fill="#1f4a8a"/>
<polygon points="145.55,292.38 149.45,292.38 147.5,295.69" fill="#1f4a8a"/>
<polygon points="148.55,294.12 152.45,294.12 150.5,297.43" fill="#1f4a8a"/>
<polygon points="143.55,294.98 147.45,294.98 145.5,298.3" fill="#1f4a8a"/>
<polygon points="146.55,296.72 150.45,296.72 148.5,300.03" fill="#1f4a8a"/>
<polygon points="143.55,298.46 147.45,298.46 145.5,301.77" fill="#1f4a8a"/>
<polygon points="146.55,300.19 150.45,300.19 148.5,303.51" fill="#1f4a8a"/>
<polygon points="149.55,301.06 153.45,301.06 151.5,304.38" fill="#1f4a8a"/>
<polygon points="143.55,301.93 147.45,301.93 145.5,305.24" fill="#1f4a8a"/>
<polygon points="146.55,303.66 150.45,303.66 148.5,306.98" fill="#1f4a8a"/>
<polygon points="143.55,305.4 147.45,305.4 145.5,308.71" fill="#1f4a8a"/>
<polygon points="146.55,307.14 150.45,307.14 148.5,310.45" fill="#1f4a8a"/>
<line x1="142.9" y1="299.15" x2="152.1" y2="299.15" stroke="#111" stroke-width="1"/>
<line x1="147.5" y1="297.41" x2="147.5" y2="300.88" stroke="#111" stroke-width="0.9"/>
<line x1="145.3" y1="297.41" x2="149.7" y2="297.41" stroke="#111" stroke-width="0.9"/>
<line x1="145.3" y1="300.88" x2="149.7" y2="300.88" stroke="#111" stroke-width="0.9"/>
<line x1="178.8" y1="269.7" x2="178.8" y2="333.7" stroke="#111" stroke-width="1"/>
<line x1="176.2" y1="333.2" x2="178.8" y2="333.2" stroke="#111" stroke-width="0.9"/>
<text x="173.6" y="336.2" font-size="8.7" text-anchor="end">0</text>
<line x1="176.2" y1="312.67" x2="178.8" y2="312.67" stroke="#111" stroke-width="0.9"/>
<text x="173.6" y="315.67" font-size="8.7" text-anchor="end">20</text>
<line x1="176.2" y1="292.13" x2="178.8" y2="292.13" stroke="#111" stroke-width="0.9"/>
<text x="173.6" y="295.13" font-size="8.7" text-anchor="end">40</text>
<line x1="176.2" y1="271.6" x2="178.8" y2="271.6" stroke="#111" stroke-width="0.9"/>
<text x="173.6" y="274.6" font-size="8.7" text-anchor="end">60</text>
<line x1="177.3" y1="322.93" x2="178.8" y2="322.93" stroke="#111" stroke-width="0.8"/>
<line x1="177.3" y1="302.4" x2="178.8" y2="302.4" stroke="#111" stroke-width="0.8"/>
<line x1="177.3" y1="281.87" x2="178.8" y2="281.87" stroke="#111" stroke-width="0.8"/>
<line x1="176.2" y1="333.2" x2="215" y2="333.2" stroke="#111" stroke-width="1"/>
<line x1="189.7" y1="333.2" x2="189.7" y2="336" stroke="#111" stroke-width="0.9"/>
<line x1="204.9" y1="333.2" x2="204.9" y2="336" stroke="#111" stroke-width="0.9"/>
<line x1="190" y1="275.8" x2="203" y2="275.8" stroke="#333" stroke-width="1"/>
<text x="196.5" y="276.2" font-size="8.2" text-anchor="middle">****</text>
<polygon points="187.95,282.52 191.45,282.52 189.7,285.49" fill="none" stroke="#c0264a" stroke-width="0.75"/>
<polygon points="188.45,285.6 191.95,285.6 190.2,288.57" fill="none" stroke="#c0264a" stroke-width="0.75"/>
<polygon points="185.45,286.63 188.95,286.63 187.2,289.6" fill="none" stroke="#c0264a" stroke-width="0.75"/>
<polygon points="190.95,287.65 194.45,287.65 192.7,290.63" fill="none" stroke="#c0264a" stroke-width="0.75"/>
<polygon points="187.95,289.71 191.45,289.71 189.7,292.68" fill="none" stroke="#c0264a" stroke-width="0.75"/>
<polygon points="184.95,290.73 188.45,290.73 186.7,293.71" fill="none" stroke="#c0264a" stroke-width="0.75"/>
<polygon points="188.45,292.79 191.95,292.79 190.2,295.76" fill="none" stroke="#c0264a" stroke-width="0.75"/>
<polygon points="185.45,293.81 188.95,293.81 187.2,296.79" fill="none" stroke="#c0264a" stroke-width="0.75"/>
<polygon points="187.95,297.92 191.45,297.92 189.7,300.89" fill="none" stroke="#c0264a" stroke-width="0.75"/>
<polygon points="190.45,299.97 193.95,299.97 192.2,302.95" fill="none" stroke="#c0264a" stroke-width="0.75"/>
<polygon points="187.95,302.03 191.45,302.03 189.7,305" fill="none" stroke="#c0264a" stroke-width="0.75"/>
<polygon points="190.45,304.08 193.95,304.08 192.2,307.05" fill="none" stroke="#c0264a" stroke-width="0.75"/>
<line x1="185.1" y1="295.21" x2="194.3" y2="295.21" stroke="#111" stroke-width="1"/>
<line x1="189.7" y1="293.16" x2="189.7" y2="297.27" stroke="#111" stroke-width="0.9"/>
<line x1="187.5" y1="293.16" x2="191.9" y2="293.16" stroke="#111" stroke-width="0.9"/>
<line x1="187.5" y1="297.27" x2="191.9" y2="297.27" stroke="#111" stroke-width="0.9"/>
<polygon points="202.95,312.13 206.85,312.13 204.9,315.45" fill="#1f4a8a"/>
<polygon points="205.95,313.16 209.85,313.16 207.9,316.47" fill="#1f4a8a"/>
<polygon points="203.45,315.21 207.35,315.21 205.4,318.53" fill="#1f4a8a"/>
<polygon points="200.95,317.27 204.85,317.27 202.9,320.58" fill="#1f4a8a"/>
<polygon points="203.45,319.32 207.35,319.32 205.4,322.63" fill="#1f4a8a"/>
<polygon points="200.45,320.35 204.35,320.35 202.4,323.66" fill="#1f4a8a"/>
<polygon points="205.95,321.37 209.85,321.37 207.9,324.69" fill="#1f4a8a"/>
<polygon points="202.95,323.43 206.85,323.43 204.9,326.74" fill="#1f4a8a"/>
<polygon points="199.95,324.45 203.85,324.45 201.9,327.77" fill="#1f4a8a"/>
<polygon points="205.45,325.48 209.35,325.48 207.4,328.79" fill="#1f4a8a"/>
<polygon points="202.45,326.51 206.35,326.51 204.4,329.82" fill="#1f4a8a"/>
<polygon points="198.95,326.51 202.85,326.51 200.9,329.82" fill="#1f4a8a"/>
<line x1="200.3" y1="321.91" x2="209.5" y2="321.91" stroke="#111" stroke-width="1"/>
<line x1="204.9" y1="320.57" x2="204.9" y2="323.24" stroke="#111" stroke-width="0.9"/>
<line x1="202.7" y1="320.57" x2="207.1" y2="320.57" stroke="#111" stroke-width="0.9"/>
<line x1="202.7" y1="323.24" x2="207.1" y2="323.24" stroke="#111" stroke-width="0.9"/>
<line x1="236.7" y1="269" x2="236.7" y2="333.7" stroke="#111" stroke-width="1"/>
<line x1="234.1" y1="333.2" x2="236.7" y2="333.2" stroke="#111" stroke-width="0.9"/>
<text x="231.5" y="336.2" font-size="8.7" text-anchor="end">0</text>
<line x1="234.1" y1="315.77" x2="236.7" y2="315.77" stroke="#111" stroke-width="0.9"/>
<text x="231.5" y="318.77" font-size="8.7" text-anchor="end">20</text>
<line x1="234.1" y1="298.33" x2="236.7" y2="298.33" stroke="#111" stroke-width="0.9"/>
<text x="231.5" y="301.33" font-size="8.7" text-anchor="end">40</text>
<line x1="234.1" y1="280.9" x2="236.7" y2="280.9" stroke="#111" stroke-width="0.9"/>
<text x="231.5" y="283.9" font-size="8.7" text-anchor="end">60</text>
<line x1="235.2" y1="324.48" x2="236.7" y2="324.48" stroke="#111" stroke-width="0.8"/>
<line x1="235.2" y1="307.05" x2="236.7" y2="307.05" stroke="#111" stroke-width="0.8"/>
<line x1="235.2" y1="289.62" x2="236.7" y2="289.62" stroke="#111" stroke-width="0.8"/>
<line x1="235.2" y1="272.18" x2="236.7" y2="272.18" stroke="#111" stroke-width="0.8"/>
<line x1="233.5" y1="333.2" x2="272.7" y2="333.2" stroke="#111" stroke-width="1"/>
<line x1="246.9" y1="333.2" x2="246.9" y2="336" stroke="#111" stroke-width="0.9"/>
<line x1="262.1" y1="333.2" x2="262.1" y2="336" stroke="#111" stroke-width="0.9"/>
<line x1="249" y1="276" x2="261.7" y2="276" stroke="#333" stroke-width="1"/>
<text x="255.35" y="276.4" font-size="8.2" text-anchor="middle">****</text>
<polygon points="245.15,307.39 248.65,307.39 246.9,310.37" fill="none" stroke="#c0264a" stroke-width="0.75"/>
<polygon points="245.15,311.75 248.65,311.75 246.9,314.73" fill="none" stroke="#c0264a" stroke-width="0.75"/>
<polygon points="245.15,316.11 248.65,316.11 246.9,319.08" fill="none" stroke="#c0264a" stroke-width="0.75"/>
<polygon points="248.15,317.85 251.65,317.85 249.9,320.83" fill="none" stroke="#c0264a" stroke-width="0.75"/>
<polygon points="243.15,318.72 246.65,318.72 244.9,321.7" fill="none" stroke="#c0264a" stroke-width="0.75"/>
<polygon points="246.15,319.6 249.65,319.6 247.9,322.57" fill="none" stroke="#c0264a" stroke-width="0.75"/>
<polygon points="249.15,320.47 252.65,320.47 250.9,323.44" fill="none" stroke="#c0264a" stroke-width="0.75"/>
<polygon points="241.15,321.34 244.65,321.34 242.9,324.31" fill="none" stroke="#c0264a" stroke-width="0.75"/>
<polygon points="244.15,322.21 247.65,322.21 245.9,325.19" fill="none" stroke="#c0264a" stroke-width="0.75"/>
<polygon points="247.15,323.08 250.65,323.08 248.9,326.06" fill="none" stroke="#c0264a" stroke-width="0.75"/>
<polygon points="241.65,323.95 245.15,323.95 243.4,326.93" fill="none" stroke="#c0264a" stroke-width="0.75"/>
<polygon points="244.65,324.83 248.15,324.83 246.4,327.8" fill="none" stroke="#c0264a" stroke-width="0.75"/>
<line x1="242.3" y1="320.12" x2="251.5" y2="320.12" stroke="#111" stroke-width="1"/>
<line x1="246.9" y1="318.64" x2="246.9" y2="321.61" stroke="#111" stroke-width="0.9"/>
<line x1="244.7" y1="318.64" x2="249.1" y2="318.64" stroke="#111" stroke-width="0.9"/>
<line x1="244.7" y1="321.61" x2="249.1" y2="321.61" stroke="#111" stroke-width="0.9"/>
<polygon points="260.15,283.7 264.05,283.7 262.1,287.01" fill="#1f4a8a"/>
<polygon points="260.15,288.06 264.05,288.06 262.1,291.37" fill="#1f4a8a"/>
<polygon points="262.15,290.67 266.05,290.67 264.1,293.99" fill="#1f4a8a"/>
<polygon points="259.15,292.41 263.05,292.41 261.1,295.73" fill="#1f4a8a"/>
<polygon points="262.15,294.16 266.05,294.16 264.1,297.47" fill="#1f4a8a"/>
<polygon points="257.15,295.03 261.05,295.03 259.1,298.34" fill="#1f4a8a"/>
<polygon points="260.15,296.77 264.05,296.77 262.1,300.09" fill="#1f4a8a"/>
<polygon points="263.15,298.52 267.05,298.52 265.1,301.83" fill="#1f4a8a"/>
<polygon points="260.15,300.26 264.05,300.26 262.1,303.57" fill="#1f4a8a"/>
<polygon points="257.15,301.13 261.05,301.13 259.1,304.45" fill="#1f4a8a"/>
<polygon points="263.15,302 267.05,302 265.1,305.32" fill="#1f4a8a"/>
<polygon points="260.15,303.75 264.05,303.75 262.1,307.06" fill="#1f4a8a"/>
<polygon points="257.15,304.62 261.05,304.62 259.1,307.93" fill="#1f4a8a"/>
<polygon points="263.15,305.49 267.05,305.49 265.1,308.8" fill="#1f4a8a"/>
<line x1="257.5" y1="298.33" x2="266.7" y2="298.33" stroke="#111" stroke-width="1"/>
<line x1="262.1" y1="296.59" x2="262.1" y2="300.08" stroke="#111" stroke-width="0.9"/>
<line x1="259.9" y1="296.59" x2="264.3" y2="296.59" stroke="#111" stroke-width="0.9"/>
<line x1="259.9" y1="300.08" x2="264.3" y2="300.08" stroke="#111" stroke-width="0.9"/>
<line x1="63.9" y1="362.2" x2="63.9" y2="426.6" stroke="#111" stroke-width="1"/>
<line x1="61.3" y1="426.1" x2="63.9" y2="426.1" stroke="#111" stroke-width="0.9"/>
<text x="58.7" y="429.1" font-size="8.7" text-anchor="end">0</text>
<line x1="61.3" y1="413.88" x2="63.9" y2="413.88" stroke="#111" stroke-width="0.9"/>
<text x="58.7" y="416.88" font-size="8.7" text-anchor="end">5</text>
<line x1="61.3" y1="401.66" x2="63.9" y2="401.66" stroke="#111" stroke-width="0.9"/>
<text x="58.7" y="404.66" font-size="8.7" text-anchor="end">10</text>
<line x1="61.3" y1="389.44" x2="63.9" y2="389.44" stroke="#111" stroke-width="0.9"/>
<text x="58.7" y="392.44" font-size="8.7" text-anchor="end">15</text>
<line x1="61.3" y1="377.22" x2="63.9" y2="377.22" stroke="#111" stroke-width="0.9"/>
<text x="58.7" y="380.22" font-size="8.7" text-anchor="end">20</text>
<line x1="61.3" y1="365" x2="63.9" y2="365" stroke="#111" stroke-width="0.9"/>
<text x="58.7" y="368" font-size="8.7" text-anchor="end">25</text>
<line x1="62.4" y1="419.99" x2="63.9" y2="419.99" stroke="#111" stroke-width="0.8"/>
<line x1="62.4" y1="407.77" x2="63.9" y2="407.77" stroke="#111" stroke-width="0.8"/>
<line x1="62.4" y1="395.55" x2="63.9" y2="395.55" stroke="#111" stroke-width="0.8"/>
<line x1="62.4" y1="383.33" x2="63.9" y2="383.33" stroke="#111" stroke-width="0.8"/>
<line x1="62.4" y1="371.11" x2="63.9" y2="371.11" stroke="#111" stroke-width="0.8"/>
<line x1="61.3" y1="426.1" x2="99.4" y2="426.1" stroke="#111" stroke-width="1"/>
<line x1="74.5" y1="426.1" x2="74.5" y2="428.9" stroke="#111" stroke-width="0.9"/>
<line x1="88.9" y1="426.1" x2="88.9" y2="428.9" stroke="#111" stroke-width="0.9"/>
<line x1="76.2" y1="371.7" x2="89.3" y2="371.7" stroke="#333" stroke-width="1"/>
<text x="82.75" y="372.1" font-size="8.2" text-anchor="middle">**</text>
<polygon points="72.75,397.82 76.25,397.82 74.5,400.79" fill="none" stroke="#c0264a" stroke-width="0.75"/>
<polygon points="75.75,399.04 79.25,399.04 77.5,402.01" fill="none" stroke="#c0264a" stroke-width="0.75"/>
<polygon points="72.75,402.7 76.25,402.7 74.5,405.68" fill="none" stroke="#c0264a" stroke-width="0.75"/>
<polygon points="75.75,403.93 79.25,403.93 77.5,406.9" fill="none" stroke="#c0264a" stroke-width="0.75"/>
<polygon points="70.75,405.15 74.25,405.15 72.5,408.12" fill="none" stroke="#c0264a" stroke-width="0.75"/>
<polygon points="73.75,406.37 77.25,406.37 75.5,409.35" fill="none" stroke="#c0264a" stroke-width="0.75"/>
<polygon points="76.75,407.59 80.25,407.59 78.5,410.57" fill="none" stroke="#c0264a" stroke-width="0.75"/>
<polygon points="71.75,408.81 75.25,408.81 73.5,411.79" fill="none" stroke="#c0264a" stroke-width="0.75"/>
<polygon points="74.75,410.04 78.25,410.04 76.5,413.01" fill="none" stroke="#c0264a" stroke-width="0.75"/>
<polygon points="69.75,411.26 73.25,411.26 71.5,414.23" fill="none" stroke="#c0264a" stroke-width="0.75"/>
<polygon points="72.75,412.48 76.25,412.48 74.5,415.45" fill="none" stroke="#c0264a" stroke-width="0.75"/>
<polygon points="75.75,413.7 79.25,413.7 77.5,416.68" fill="none" stroke="#c0264a" stroke-width="0.75"/>
<line x1="69.9" y1="407.77" x2="79.1" y2="407.77" stroke="#111" stroke-width="1"/>
<line x1="74.5" y1="406.3" x2="74.5" y2="409.24" stroke="#111" stroke-width="0.9"/>
<line x1="72.3" y1="406.3" x2="76.7" y2="406.3" stroke="#111" stroke-width="0.9"/>
<line x1="72.3" y1="409.24" x2="76.7" y2="409.24" stroke="#111" stroke-width="0.9"/>
<polygon points="86.95,378.1 90.85,378.1 88.9,381.42" fill="#1f4a8a"/>
<polygon points="89.95,379.33 93.85,379.33 91.9,382.64" fill="#1f4a8a"/>
<polygon points="86.95,385.44 90.85,385.44 88.9,388.75" fill="#1f4a8a"/>
<polygon points="86.95,390.32 90.85,390.32 88.9,393.64" fill="#1f4a8a"/>
<polygon points="88.95,392.77 92.85,392.77 90.9,396.08" fill="#1f4a8a"/>
<polygon points="86.95,395.21 90.85,395.21 88.9,398.53" fill="#1f4a8a"/>
<polygon points="88.95,397.66 92.85,397.66 90.9,400.97" fill="#1f4a8a"/>
<polygon points="86.95,400.1 90.85,400.1 88.9,403.42" fill="#1f4a8a"/>
<polygon points="88.95,402.54 92.85,402.54 90.9,405.86" fill="#1f4a8a"/>
<polygon points="85.95,403.77 89.85,403.77 87.9,407.08" fill="#1f4a8a"/>
<polygon points="86.95,407.43 90.85,407.43 88.9,410.75" fill="#1f4a8a"/>
<line x1="84.3" y1="395.55" x2="93.5" y2="395.55" stroke="#111" stroke-width="1"/>
<line x1="88.9" y1="392.62" x2="88.9" y2="398.48" stroke="#111" stroke-width="0.9"/>
<line x1="86.7" y1="392.62" x2="91.1" y2="392.62" stroke="#111" stroke-width="0.9"/>
<line x1="86.7" y1="398.48" x2="91.1" y2="398.48" stroke="#111" stroke-width="0.9"/>
<line x1="121.3" y1="362.2" x2="121.3" y2="426.7" stroke="#111" stroke-width="1"/>
<line x1="118.7" y1="426.2" x2="121.3" y2="426.2" stroke="#111" stroke-width="0.9"/>
<text x="116.1" y="429.2" font-size="8.7" text-anchor="end">0</text>
<line x1="118.7" y1="413.96" x2="121.3" y2="413.96" stroke="#111" stroke-width="0.9"/>
<text x="116.1" y="416.96" font-size="8.7" text-anchor="end">10</text>
<line x1="118.7" y1="401.72" x2="121.3" y2="401.72" stroke="#111" stroke-width="0.9"/>
<text x="116.1" y="404.72" font-size="8.7" text-anchor="end">20</text>
<line x1="118.7" y1="389.48" x2="121.3" y2="389.48" stroke="#111" stroke-width="0.9"/>
<text x="116.1" y="392.48" font-size="8.7" text-anchor="end">30</text>
<line x1="118.7" y1="377.24" x2="121.3" y2="377.24" stroke="#111" stroke-width="0.9"/>
<text x="116.1" y="380.24" font-size="8.7" text-anchor="end">40</text>
<line x1="118.7" y1="365" x2="121.3" y2="365" stroke="#111" stroke-width="0.9"/>
<text x="116.1" y="368" font-size="8.7" text-anchor="end">50</text>
<line x1="119.8" y1="420.08" x2="121.3" y2="420.08" stroke="#111" stroke-width="0.8"/>
<line x1="119.8" y1="407.84" x2="121.3" y2="407.84" stroke="#111" stroke-width="0.8"/>
<line x1="119.8" y1="395.6" x2="121.3" y2="395.6" stroke="#111" stroke-width="0.8"/>
<line x1="119.8" y1="383.36" x2="121.3" y2="383.36" stroke="#111" stroke-width="0.8"/>
<line x1="119.8" y1="371.12" x2="121.3" y2="371.12" stroke="#111" stroke-width="0.8"/>
<line x1="118.7" y1="426.2" x2="157.5" y2="426.2" stroke="#111" stroke-width="1"/>
<line x1="131.7" y1="426.2" x2="131.7" y2="429" stroke="#111" stroke-width="0.9"/>
<line x1="147" y1="426.2" x2="147" y2="429" stroke="#111" stroke-width="0.9"/>
<line x1="133.3" y1="368.7" x2="145" y2="368.7" stroke="#333" stroke-width="1"/>
<text x="139.15" y="366.3" font-size="7.2" text-anchor="middle">ns</text>
<polygon points="129.95,401.54 133.45,401.54 131.7,404.52" fill="none" stroke="#c0264a" stroke-width="0.75"/>
<polygon points="132.95,402.77 136.45,402.77 134.7,405.74" fill="none" stroke="#c0264a" stroke-width="0.75"/>
<polygon points="127.45,403.38 130.95,403.38 129.2,406.35" fill="none" stroke="#c0264a" stroke-width="0.75"/>
<polygon points="130.45,403.99 133.95,403.99 132.2,406.97" fill="none" stroke="#c0264a" stroke-width="0.75"/>
<polygon points="133.95,404.6 137.45,404.6 135.7,407.58" fill="none" stroke="#c0264a" stroke-width="0.75"/>
<polygon points="125.95,405.22 129.45,405.22 127.7,408.19" fill="none" stroke="#c0264a" stroke-width="0.75"/>
<polygon points="128.45,405.83 131.95,405.83 130.2,408.8" fill="none" stroke="#c0264a" stroke-width="0.75"/>
<polygon points="131.95,406.44 135.45,406.44 133.7,409.41" fill="none" stroke="#c0264a" stroke-width="0.75"/>
<polygon points="126.45,407.66 129.95,407.66 128.2,410.64" fill="none" stroke="#c0264a" stroke-width="0.75"/>
<polygon points="129.95,408.89 133.45,408.89 131.7,411.86" fill="none" stroke="#c0264a" stroke-width="0.75"/>
<polygon points="132.95,410.11 136.45,410.11 134.7,413.09" fill="none" stroke="#c0264a" stroke-width="0.75"/>
<line x1="127.1" y1="406.62" x2="136.3" y2="406.62" stroke="#111" stroke-width="1"/>
<line x1="131.7" y1="405.88" x2="131.7" y2="407.35" stroke="#111" stroke-width="0.9"/>
<line x1="129.5" y1="405.88" x2="133.9" y2="405.88" stroke="#111" stroke-width="0.9"/>
<line x1="129.5" y1="407.35" x2="133.9" y2="407.35" stroke="#111" stroke-width="0.9"/>
<polygon points="145.05,375.68 148.95,375.68 147,379" fill="#1f4a8a"/>
<polygon points="145.05,394.04 148.95,394.04 147,397.35" fill="#1f4a8a"/>
<polygon points="145.05,397.71 148.95,397.71 147,401.03" fill="#1f4a8a"/>
<polygon points="147.05,400.16 150.95,400.16 149,403.47" fill="#1f4a8a"/>
<polygon points="144.05,401.38 147.95,401.38 146,404.7" fill="#1f4a8a"/>
<polygon points="141.05,402 144.95,402 143,405.31" fill="#1f4a8a"/>
<polygon points="149.05,402.61 152.95,402.61 151,405.92" fill="#1f4a8a"/>
<polygon points="145.05,405.06 148.95,405.06 147,408.37" fill="#1f4a8a"/>
<polygon points="147.05,407.5 150.95,407.5 149,410.82" fill="#1f4a8a"/>
<polygon points="144.55,409.34 148.45,409.34 146.5,412.65" fill="#1f4a8a"/>
<polygon points="149.05,409.95 152.95,409.95 151,413.27" fill="#1f4a8a"/>
<line x1="142.4" y1="402.94" x2="151.6" y2="402.94" stroke="#111" stroke-width="1"/>
<line x1="147" y1="399.88" x2="147" y2="406" stroke="#111" stroke-width="0.9"/>
<line x1="144.8" y1="399.88" x2="149.2" y2="399.88" stroke="#111" stroke-width="0.9"/>
<line x1="144.8" y1="406" x2="149.2" y2="406" stroke="#111" stroke-width="0.9"/>
<line x1="178.8" y1="362.2" x2="178.8" y2="426.8" stroke="#111" stroke-width="1"/>
<line x1="176.2" y1="426.3" x2="178.8" y2="426.3" stroke="#111" stroke-width="0.9"/>
<text x="173.6" y="429.3" font-size="8.7" text-anchor="end">0</text>
<line x1="176.2" y1="410.98" x2="178.8" y2="410.98" stroke="#111" stroke-width="0.9"/>
<text x="173.6" y="413.98" font-size="8.7" text-anchor="end">10</text>
<line x1="176.2" y1="395.65" x2="178.8" y2="395.65" stroke="#111" stroke-width="0.9"/>
<text x="173.6" y="398.65" font-size="8.7" text-anchor="end">20</text>
<line x1="176.2" y1="380.32" x2="178.8" y2="380.32" stroke="#111" stroke-width="0.9"/>
<text x="173.6" y="383.33" font-size="8.7" text-anchor="end">30</text>
<line x1="176.2" y1="365" x2="178.8" y2="365" stroke="#111" stroke-width="0.9"/>
<text x="173.6" y="368" font-size="8.7" text-anchor="end">40</text>
<line x1="177.3" y1="418.64" x2="178.8" y2="418.64" stroke="#111" stroke-width="0.8"/>
<line x1="177.3" y1="403.31" x2="178.8" y2="403.31" stroke="#111" stroke-width="0.8"/>
<line x1="177.3" y1="387.99" x2="178.8" y2="387.99" stroke="#111" stroke-width="0.8"/>
<line x1="177.3" y1="372.66" x2="178.8" y2="372.66" stroke="#111" stroke-width="0.8"/>
<line x1="175.8" y1="426.3" x2="215" y2="426.3" stroke="#111" stroke-width="1"/>
<line x1="189.7" y1="426.3" x2="189.7" y2="429.1" stroke="#111" stroke-width="0.9"/>
<line x1="204.7" y1="426.3" x2="204.7" y2="429.1" stroke="#111" stroke-width="0.9"/>
<line x1="192" y1="368.7" x2="204.7" y2="368.7" stroke="#333" stroke-width="1"/>
<text x="198.35" y="369.1" font-size="8.2" text-anchor="middle">****</text>
<polygon points="187.95,371.26 191.45,371.26 189.7,374.24" fill="none" stroke="#c0264a" stroke-width="0.75"/>
<polygon points="190.95,372.8 194.45,372.8 192.7,375.77" fill="none" stroke="#c0264a" stroke-width="0.75"/>
<polygon points="187.45,374.33 190.95,374.33 189.2,377.3" fill="none" stroke="#c0264a" stroke-width="0.75"/>
<polygon points="187.95,377.39 191.45,377.39 189.7,380.37" fill="none" stroke="#c0264a" stroke-width="0.75"/>
<polygon points="190.95,378.93 194.45,378.93 192.7,381.9" fill="none" stroke="#c0264a" stroke-width="0.75"/>
<polygon points="187.95,381.99 191.45,381.99 189.7,384.96" fill="none" stroke="#c0264a" stroke-width="0.75"/>
<polygon points="188.45,385.06 191.95,385.06 190.2,388.03" fill="none" stroke="#c0264a" stroke-width="0.75"/>
<polygon points="187.95,388.12 191.45,388.12 189.7,391.09" fill="none" stroke="#c0264a" stroke-width="0.75"/>
<polygon points="190.95,389.65 194.45,389.65 192.7,392.63" fill="none" stroke="#c0264a" stroke-width="0.75"/>
<polygon points="187.95,397.32 191.45,397.32 189.7,400.29" fill="none" stroke="#c0264a" stroke-width="0.75"/>
<polygon points="188.45,400.38 191.95,400.38 190.2,403.36" fill="none" stroke="#c0264a" stroke-width="0.75"/>
<polygon points="187.95,406.51 191.45,406.51 189.7,409.49" fill="none" stroke="#c0264a" stroke-width="0.75"/>
<line x1="185.1" y1="386.46" x2="194.3" y2="386.46" stroke="#111" stroke-width="1"/>
<line x1="189.7" y1="383.39" x2="189.7" y2="389.52" stroke="#111" stroke-width="0.9"/>
<line x1="187.5" y1="383.39" x2="191.9" y2="383.39" stroke="#111" stroke-width="0.9"/>
<line x1="187.5" y1="389.52" x2="191.9" y2="389.52" stroke="#111" stroke-width="0.9"/>
<polygon points="202.75,404.82 206.65,404.82 204.7,408.13" fill="#1f4a8a"/>
<polygon points="205.75,406.35 209.65,406.35 207.7,409.67" fill="#1f4a8a"/>
<polygon points="202.25,407.88 206.15,407.88 204.2,411.2" fill="#1f4a8a"/>
<polygon points="205.25,409.42 209.15,409.42 207.2,412.73" fill="#1f4a8a"/>
<polygon points="201.75,410.95 205.65,410.95 203.7,414.26" fill="#1f4a8a"/>
<polygon points="204.75,412.48 208.65,412.48 206.7,415.8" fill="#1f4a8a"/>
<polygon points="199.25,413.25 203.15,413.25 201.2,416.56" fill="#1f4a8a"/>
<polygon points="202.25,414.01 206.15,414.01 204.2,417.33" fill="#1f4a8a"/>
<polygon points="205.25,415.55 209.15,415.55 207.2,418.86" fill="#1f4a8a"/>
<polygon points="201.75,417.08 205.65,417.08 203.7,420.39" fill="#1f4a8a"/>
<polygon points="204.75,418.61 208.65,418.61 206.7,421.93" fill="#1f4a8a"/>
<line x1="200.1" y1="414.04" x2="209.3" y2="414.04" stroke="#111" stroke-width="1"/>
<line x1="204.7" y1="412.81" x2="204.7" y2="415.27" stroke="#111" stroke-width="0.9"/>
<line x1="202.5" y1="412.81" x2="206.9" y2="412.81" stroke="#111" stroke-width="0.9"/>
<line x1="202.5" y1="415.27" x2="206.9" y2="415.27" stroke="#111" stroke-width="0.9"/>
<line x1="236.3" y1="362.2" x2="236.3" y2="426.8" stroke="#111" stroke-width="1"/>
<line x1="233.7" y1="426.3" x2="236.3" y2="426.3" stroke="#111" stroke-width="0.9"/>
<text x="231.1" y="429.3" font-size="8.7" text-anchor="end">0</text>
<line x1="233.7" y1="412.65" x2="236.3" y2="412.65" stroke="#111" stroke-width="0.9"/>
<text x="231.1" y="415.65" font-size="8.7" text-anchor="end">20</text>
<line x1="233.7" y1="399" x2="236.3" y2="399" stroke="#111" stroke-width="0.9"/>
<text x="231.1" y="402" font-size="8.7" text-anchor="end">40</text>
<line x1="233.7" y1="385.35" x2="236.3" y2="385.35" stroke="#111" stroke-width="0.9"/>
<text x="231.1" y="388.35" font-size="8.7" text-anchor="end">60</text>
<line x1="233.7" y1="371.7" x2="236.3" y2="371.7" stroke="#111" stroke-width="0.9"/>
<text x="231.1" y="374.7" font-size="8.7" text-anchor="end">80</text>
<line x1="234.8" y1="419.48" x2="236.3" y2="419.48" stroke="#111" stroke-width="0.8"/>
<line x1="234.8" y1="405.82" x2="236.3" y2="405.82" stroke="#111" stroke-width="0.8"/>
<line x1="234.8" y1="392.18" x2="236.3" y2="392.18" stroke="#111" stroke-width="0.8"/>
<line x1="234.8" y1="378.53" x2="236.3" y2="378.53" stroke="#111" stroke-width="0.8"/>
<line x1="234.8" y1="364.88" x2="236.3" y2="364.88" stroke="#111" stroke-width="0.8"/>
<line x1="233.7" y1="426.3" x2="272.5" y2="426.3" stroke="#111" stroke-width="1"/>
<line x1="246.7" y1="426.3" x2="246.7" y2="429.1" stroke="#111" stroke-width="0.9"/>
<line x1="262" y1="426.3" x2="262" y2="429.1" stroke="#111" stroke-width="0.9"/>
<line x1="248.3" y1="368.7" x2="260.3" y2="368.7" stroke="#333" stroke-width="1"/>
<text x="254.3" y="369.1" font-size="8.2" text-anchor="middle">**</text>
<polygon points="244.95,381.22 248.45,381.22 246.7,384.19" fill="none" stroke="#c0264a" stroke-width="0.75"/>
<polygon points="244.95,386 248.45,386 246.7,388.97" fill="none" stroke="#c0264a" stroke-width="0.75"/>
<polygon points="247.95,387.36 251.45,387.36 249.7,390.34" fill="none" stroke="#c0264a" stroke-width="0.75"/>
<polygon points="243.45,388.73 246.95,388.73 245.2,391.7" fill="none" stroke="#c0264a" stroke-width="0.75"/>
<polygon points="246.45,390.09 249.95,390.09 248.2,393.07" fill="none" stroke="#c0264a" stroke-width="0.75"/>
<polygon points="240.95,390.78 244.45,390.78 242.7,393.75" fill="none" stroke="#c0264a" stroke-width="0.75"/>
<polygon points="248.95,391.46 252.45,391.46 250.7,394.43" fill="none" stroke="#c0264a" stroke-width="0.75"/>
<polygon points="243.95,392.14 247.45,392.14 245.7,395.12" fill="none" stroke="#c0264a" stroke-width="0.75"/>
<polygon points="246.95,393.51 250.45,393.51 248.7,396.48" fill="none" stroke="#c0264a" stroke-width="0.75"/>
<polygon points="241.45,394.19 244.95,394.19 243.2,397.16" fill="none" stroke="#c0264a" stroke-width="0.75"/>
<polygon points="244.45,395.55 247.95,395.55 246.2,398.53" fill="none" stroke="#c0264a" stroke-width="0.75"/>
<polygon points="248.45,396.24 251.95,396.24 250.2,399.21" fill="none" stroke="#c0264a" stroke-width="0.75"/>
<line x1="242.1" y1="391.49" x2="251.3" y2="391.49" stroke="#111" stroke-width="1"/>
<line x1="246.7" y1="390.33" x2="246.7" y2="392.65" stroke="#111" stroke-width="0.9"/>
<line x1="244.5" y1="390.33" x2="248.9" y2="390.33" stroke="#111" stroke-width="0.9"/>
<line x1="244.5" y1="392.65" x2="248.9" y2="392.65" stroke="#111" stroke-width="0.9"/>
<polygon points="260.05,373.55 263.95,373.55 262,376.87" fill="#1f4a8a"/>
<polygon points="262.55,375.6 266.45,375.6 264.5,378.92" fill="#1f4a8a"/>
<polygon points="259.55,376.97 263.45,376.97 261.5,380.28" fill="#1f4a8a"/>
<polygon points="256.55,378.33 260.45,378.33 258.5,381.64" fill="#1f4a8a"/>
<polygon points="261.05,379.69 264.95,379.69 263,383.01" fill="#1f4a8a"/>
<polygon points="258.05,381.06 261.95,381.06 260,384.38" fill="#1f4a8a"/>
<polygon points="262.55,382.43 266.45,382.43 264.5,385.74" fill="#1f4a8a"/>
<polygon points="259.55,383.79 263.45,383.79 261.5,387.11" fill="#1f4a8a"/>
<polygon points="256.55,385.16 260.45,385.16 258.5,388.47" fill="#1f4a8a"/>
<polygon points="261.05,386.52 264.95,386.52 263,389.84" fill="#1f4a8a"/>
<polygon points="264.05,387.2 267.95,387.2 266,390.52" fill="#1f4a8a"/>
<polygon points="260.05,404.95 263.95,404.95 262,408.26" fill="#1f4a8a"/>
<line x1="257.4" y1="384.67" x2="266.6" y2="384.67" stroke="#111" stroke-width="1"/>
<line x1="262" y1="382.62" x2="262" y2="386.72" stroke="#111" stroke-width="0.9"/>
<line x1="259.8" y1="382.62" x2="264.2" y2="382.62" stroke="#111" stroke-width="0.9"/>
<line x1="259.8" y1="386.72" x2="264.2" y2="386.72" stroke="#111" stroke-width="0.9"/>
<text x="76.5" y="435.2" font-size="8" text-anchor="end" transform="rotate(-45 76.5 435.2)">Healthy</text>
<text x="90.9" y="435.2" font-size="8" text-anchor="end" transform="rotate(-45 90.9 435.2)">E&#956;-myc</text>
<text x="133.7" y="435.2" font-size="8" text-anchor="end" transform="rotate(-45 133.7 435.2)">Healthy</text>
<text x="149" y="435.2" font-size="8" text-anchor="end" transform="rotate(-45 149 435.2)">E&#956;-myc</text>
<text x="191.7" y="435.2" font-size="8" text-anchor="end" transform="rotate(-45 191.7 435.2)">Healthy</text>
<text x="206.7" y="435.2" font-size="8" text-anchor="end" transform="rotate(-45 206.7 435.2)">E&#956;-myc</text>
<text x="248.7" y="435.2" font-size="8" text-anchor="end" transform="rotate(-45 248.7 435.2)">Healthy</text>
<text x="264" y="435.2" font-size="8" text-anchor="end" transform="rotate(-45 264 435.2)">E&#956;-myc</text>
<path d="M310.5,289.6 L315.4,288.6 L320,285.5 L323,281.3 L326,275.6 L327.5,268 L328.4,262.1 L329.8,257.3 L331.2,256.3 L333.2,257.8 L334.1,264 L335.6,276.5 L337.5,286.2 L340.4,290.2 L395,290.6 L395,290.8 L310.5,290.8Z" fill="#e2e2e4"/>
<path d="M310.5,289.6 L315.4,288.6 L320,285.5 L323,281.3 L326,275.6 L327.5,268 L328.4,262.1 L329.8,257.3 L331.2,256.3 L333.2,257.8 L334.1,264 L335.6,276.5 L337.5,286.2 L340.4,290.2 L395,290.6" fill="none" stroke="#5a5e72" stroke-width="1.05" stroke-dasharray="3,1.8"/>
<path d="M310.3,311.2 L312.1,311.9 L317.3,310.2 L321.3,306.7 L324.2,303 L326,295 L328.3,286.9 L330.9,278.5 L332,273.2 L333.5,280 L336.9,297.9 L338.7,303.5 L341.5,312.3 L395,312.3" fill="none" stroke="#c0163e" stroke-width="1.1"/>
<path d="M318.5,333.3 L321,331.5 L323,329.6 L326,329 L328.3,326.2 L330.6,318 L332.3,308.8 L333.5,304.2 L335.8,301.3 L337.8,298.5 L339.8,303 L341.5,310 L343.8,320.4 L346.2,329.6 L347.3,333.3Z" fill="#1f3f7a"/>
<rect x="309.9" y="247.2" width="85.2" height="86" fill="none" stroke="#333" stroke-width="1"/>
<line x1="309.9" y1="247.7" x2="309.9" y2="270.8" stroke="#8a8fa6" stroke-width="1.2"/>
<line x1="309.9" y1="270.8" x2="309.9" y2="318" stroke="#c8254a" stroke-width="1.2"/>
<line x1="309.9" y1="318" x2="309.9" y2="326" stroke="#7a7a80" stroke-width="1.2"/>
<line x1="309.9" y1="326" x2="309.9" y2="333.2" stroke="#1f3f7a" stroke-width="1.2"/>
<path d="M312.9 333.2v1.6M319.22 333.2v0.9M322.92 333.2v0.9M325.54 333.2v0.9M327.58 333.2v0.9M329.24 333.2v0.9M330.65 333.2v0.9M331.86 333.2v0.9M332.94 333.2v0.9M333.9 333.2v1.6M340.22 333.2v0.9M343.92 333.2v0.9M346.54 333.2v0.9M348.58 333.2v0.9M350.24 333.2v0.9M351.65 333.2v0.9M352.86 333.2v0.9M353.94 333.2v0.9M354.9 333.2v1.6M361.22 333.2v0.9M364.92 333.2v0.9M367.54 333.2v0.9M369.58 333.2v0.9M371.24 333.2v0.9M372.65 333.2v0.9M373.86 333.2v0.9M374.94 333.2v0.9M375.9 333.2v1.6M382.22 333.2v0.9M385.92 333.2v0.9M388.54 333.2v0.9M390.58 333.2v0.9M392.24 333.2v0.9M393.65 333.2v0.9M394.86 333.2v0.9M395.94 333.2v0.9" stroke="#222" stroke-width="0.7"/>
<text x="369.6" y="267.4" font-size="8.2" textLength="15.6" lengthAdjust="spacingAndGlyphs">MFI:</text>
<text x="372" y="308.8" font-size="8.2" textLength="12.9" lengthAdjust="spacingAndGlyphs">638</text>
<text x="368.9" y="330.3" font-size="8.2" textLength="16" lengthAdjust="spacingAndGlyphs">1909</text>
<text x="343.8" y="345" font-size="8" textLength="16.7" lengthAdjust="spacingAndGlyphs">TIGIT</text>
<text x="279.8" y="291.8" font-size="8.3" textLength="27" lengthAdjust="spacingAndGlyphs">Isotype</text>
<text x="278.8" y="312.5" font-size="8.3" textLength="28" lengthAdjust="spacingAndGlyphs">Healthy</text>
<text x="279.8" y="332.2" font-size="8.3" textLength="27" lengthAdjust="spacingAndGlyphs">E&#956;-myc</text>
<rect x="357.1" y="422.5" width="5.6" height="3.7" fill="#e9a3a3"/>
<rect x="365.6" y="382.5" width="5.6" height="43.7" fill="#8e99c8"/>
<line x1="354.1" y1="362.7" x2="354.1" y2="426.7" stroke="#111" stroke-width="1"/>
<line x1="351.5" y1="365" x2="354.1" y2="365" stroke="#111" stroke-width="0.9"/>
<text x="347.3" y="369.3" font-size="7.9" text-anchor="end">2x10<tspan dy="-3.6" font-size="5.4">3</tspan></text>
<line x1="351.5" y1="380.4" x2="354.1" y2="380.4" stroke="#111" stroke-width="0.9"/>
<text x="347.3" y="384.7" font-size="7.9" text-anchor="end">1.5x10<tspan dy="-3.6" font-size="5.4">3</tspan></text>
<line x1="351.5" y1="395.8" x2="354.1" y2="395.8" stroke="#111" stroke-width="0.9"/>
<text x="347.3" y="400.1" font-size="7.9" text-anchor="end">1x10<tspan dy="-3.6" font-size="5.4">3</tspan></text>
<line x1="351.5" y1="411.2" x2="354.1" y2="411.2" stroke="#111" stroke-width="0.9"/>
<text x="347.3" y="415.5" font-size="7.9" text-anchor="end">5x10<tspan dy="-3.6" font-size="5.4">2</tspan></text>
<line x1="351.5" y1="426.2" x2="354.1" y2="426.2" stroke="#111" stroke-width="0.9"/>
<text x="348.9" y="429.2" font-size="8.7" text-anchor="end">0</text>
<line x1="351" y1="426.2" x2="374" y2="426.2" stroke="#111" stroke-width="1"/>
<line x1="359.6" y1="426.2" x2="359.6" y2="429" stroke="#111" stroke-width="0.9"/>
<line x1="368.3" y1="426.2" x2="368.3" y2="429" stroke="#111" stroke-width="0.9"/>
<line x1="358.7" y1="369.8" x2="368.8" y2="369.8" stroke="#333" stroke-width="1"/>
<text x="363.75" y="370.2" font-size="8.2" text-anchor="middle">*</text>
<circle cx="368.4" cy="374.2" r="1.5" fill="#16326e" stroke="#0a1a40" stroke-width="0.4"/>
<circle cx="366.8" cy="379.6" r="1.5" fill="#16326e" stroke="#0a1a40" stroke-width="0.4"/>
<circle cx="369.8" cy="382.3" r="1.5" fill="#16326e" stroke="#0a1a40" stroke-width="0.4"/>
<circle cx="368.4" cy="392.4" r="1.5" fill="#16326e" stroke="#0a1a40" stroke-width="0.4"/>
<circle cx="359.7" cy="417.8" r="1.3" fill="#a0001a" stroke="#300" stroke-width="0.4"/>
<circle cx="358.3" cy="421.1" r="1.3" fill="#a0001a" stroke="#300" stroke-width="0.4"/>
<circle cx="360.4" cy="421.3" r="1.3" fill="#a0001a" stroke="#300" stroke-width="0.4"/>
<circle cx="361.3" cy="422.6" r="1.3" fill="#a0001a" stroke="#300" stroke-width="0.4"/>
<circle cx="359.4" cy="422.4" r="1.3" fill="#a0001a" stroke="#300" stroke-width="0.4"/>
<text x="315.2" y="414" font-size="8.8" textLength="37.5" lengthAdjust="spacingAndGlyphs" transform="rotate(-90 315.2 414)">&#916;MFI TIGIT</text>
<text x="361.6" y="435.2" font-size="8" text-anchor="end" transform="rotate(-45 361.6 435.2)">Healthy</text>
<text x="370.3" y="435.2" font-size="8" text-anchor="end" transform="rotate(-45 370.3 435.2)">E&#956;-myc</text>
<path d="M57.8 492.4 V659.5 H222.1" fill="none" stroke="#777" stroke-width="0.9"/>
<path d="M57.8 489.9 l-1.5 3.2 h3z" fill="#111"/>
<path d="M224.6 659.5 l-3.2 -1.5 v3z" fill="#111"/>
<text x="94.8" y="482.3" font-size="9.2" textLength="17" lengthAdjust="spacingAndGlyphs">PBS</text>
<text x="160.1" y="482.5" font-size="9.2" textLength="54.9" lengthAdjust="spacingAndGlyphs">IL-12 + IL-18</text>
<text x="8" y="529.6" font-size="9.2" textLength="32.2" lengthAdjust="spacingAndGlyphs">Healthy</text>
<text x="8.7" y="615.2" font-size="9.2" textLength="32.3" lengthAdjust="spacingAndGlyphs">E&#956;-myc</text>
<text x="52.6" y="581.3" font-size="10" textLength="20.4" lengthAdjust="spacingAndGlyphs" transform="rotate(-90 52.6 581.3)">NK1.1</text>
<text x="135" y="670.6" font-size="10" textLength="15.8" lengthAdjust="spacingAndGlyphs">IFN-&#947;</text>
<rect x="63.5" y="487.7" width="78.8" height="79.7" fill="none" stroke="#1a1a1a" stroke-width="1.15"/>
<path d="M63.5 564.9h-2.2M63.5 561.47h-1.3M63.5 559.47h-1.3M63.5 556.94h-1.3M63.5 555.28h-1.3M63.5 553.51h-2.2M63.5 550.09h-1.3M63.5 548.08h-1.3M63.5 545.56h-1.3M63.5 543.89h-1.3M63.5 542.13h-2.2M63.5 538.7h-1.3M63.5 536.7h-1.3M63.5 534.17h-1.3M63.5 532.51h-1.3M63.5 530.74h-2.2M63.5 527.32h-1.3M63.5 525.31h-1.3M63.5 522.78h-1.3M63.5 521.12h-1.3M63.5 519.36h-2.2M63.5 515.93h-1.3M63.5 513.92h-1.3M63.5 511.4h-1.3M63.5 509.74h-1.3M63.5 507.97h-2.2M63.5 504.54h-1.3M63.5 502.54h-1.3M63.5 500.01h-1.3M63.5 498.35h-1.3M63.5 496.59h-2.2M63.5 493.16h-1.3M63.5 491.15h-1.3M66 567.4v2.2M69.39 567.4v1.3M71.37 567.4v1.3M73.87 567.4v1.3M75.51 567.4v1.3M77.26 567.4v2.2M80.65 567.4v1.3M82.63 567.4v1.3M85.13 567.4v1.3M86.77 567.4v1.3M88.51 567.4v2.2M91.9 567.4v1.3M93.89 567.4v1.3M96.38 567.4v1.3M98.03 567.4v1.3M99.77 567.4v2.2M103.16 567.4v1.3M105.14 567.4v1.3M107.64 567.4v1.3M109.28 567.4v1.3M111.03 567.4v2.2M114.42 567.4v1.3M116.4 567.4v1.3M118.9 567.4v1.3M120.54 567.4v1.3M122.29 567.4v2.2M125.67 567.4v1.3M127.66 567.4v1.3M130.15 567.4v1.3M131.8 567.4v1.3M133.54 567.4v2.2M136.93 567.4v1.3M138.91 567.4v1.3" stroke="#1a1a1a" stroke-width="0.9"/>
<rect x="98.6" y="507.4" width="42.6" height="33.9" fill="none" stroke="#444" stroke-width="0.7"/>
<text x="113.5" y="499" font-size="9" textLength="14.6" lengthAdjust="spacingAndGlyphs">0.78</text>
<rect x="148" y="487.7" width="78.2" height="79.7" fill="none" stroke="#1a1a1a" stroke-width="1.15"/>
<path d="M148 564.9h-2.2M148 561.47h-1.3M148 559.47h-1.3M148 556.94h-1.3M148 555.28h-1.3M148 553.51h-2.2M148 550.09h-1.3M148 548.08h-1.3M148 545.56h-1.3M148 543.89h-1.3M148 542.13h-2.2M148 538.7h-1.3M148 536.7h-1.3M148 534.17h-1.3M148 532.51h-1.3M148 530.74h-2.2M148 527.32h-1.3M148 525.31h-1.3M148 522.78h-1.3M148 521.12h-1.3M148 519.36h-2.2M148 515.93h-1.3M148 513.92h-1.3M148 511.4h-1.3M148 509.74h-1.3M148 507.97h-2.2M148 504.54h-1.3M148 502.54h-1.3M148 500.01h-1.3M148 498.35h-1.3M148 496.59h-2.2M148 493.16h-1.3M148 491.15h-1.3M150.5 567.4v2.2M153.86 567.4v1.3M155.83 567.4v1.3M158.31 567.4v1.3M159.94 567.4v1.3M161.67 567.4v2.2M165.03 567.4v1.3M167 567.4v1.3M169.48 567.4v1.3M171.11 567.4v1.3M172.84 567.4v2.2M176.21 567.4v1.3M178.17 567.4v1.3M180.65 567.4v1.3M182.28 567.4v1.3M184.01 567.4v2.2M187.38 567.4v1.3M189.34 567.4v1.3M191.82 567.4v1.3M193.46 567.4v1.3M195.19 567.4v2.2M198.55 567.4v1.3M200.52 567.4v1.3M202.99 567.4v1.3M204.63 567.4v1.3M206.36 567.4v2.2M209.72 567.4v1.3M211.69 567.4v1.3M214.17 567.4v1.3M215.8 567.4v1.3M217.53 567.4v2.2M220.89 567.4v1.3M222.86 567.4v1.3" stroke="#1a1a1a" stroke-width="0.9"/>
<rect x="182.2" y="507.2" width="42.3" height="34.1" fill="none" stroke="#444" stroke-width="0.7"/>
<text x="197.7" y="499" font-size="9" textLength="14.6" lengthAdjust="spacingAndGlyphs">48.4</text>
<rect x="63.5" y="573.4" width="78.8" height="79.6" fill="none" stroke="#1a1a1a" stroke-width="1.15"/>
<path d="M63.5 650.5h-2.2M63.5 647.08h-1.3M63.5 645.07h-1.3M63.5 642.55h-1.3M63.5 640.89h-1.3M63.5 639.13h-2.2M63.5 635.71h-1.3M63.5 633.7h-1.3M63.5 631.18h-1.3M63.5 629.52h-1.3M63.5 627.76h-2.2M63.5 624.33h-1.3M63.5 622.33h-1.3M63.5 619.81h-1.3M63.5 618.15h-1.3M63.5 616.39h-2.2M63.5 612.96h-1.3M63.5 610.96h-1.3M63.5 608.44h-1.3M63.5 606.78h-1.3M63.5 605.01h-2.2M63.5 601.59h-1.3M63.5 599.59h-1.3M63.5 597.07h-1.3M63.5 595.4h-1.3M63.5 593.64h-2.2M63.5 590.22h-1.3M63.5 588.22h-1.3M63.5 585.69h-1.3M63.5 584.03h-1.3M63.5 582.27h-2.2M63.5 578.85h-1.3M63.5 576.85h-1.3M66 653v2.2M69.39 653v1.3M71.37 653v1.3M73.87 653v1.3M75.51 653v1.3M77.26 653v2.2M80.65 653v1.3M82.63 653v1.3M85.13 653v1.3M86.77 653v1.3M88.51 653v2.2M91.9 653v1.3M93.89 653v1.3M96.38 653v1.3M98.03 653v1.3M99.77 653v2.2M103.16 653v1.3M105.14 653v1.3M107.64 653v1.3M109.28 653v1.3M111.03 653v2.2M114.42 653v1.3M116.4 653v1.3M118.9 653v1.3M120.54 653v1.3M122.29 653v2.2M125.67 653v1.3M127.66 653v1.3M130.15 653v1.3M131.8 653v1.3M133.54 653v2.2M136.93 653v1.3M138.91 653v1.3" stroke="#1a1a1a" stroke-width="0.9"/>
<rect x="98.6" y="592.3" width="42.7" height="34.6" fill="none" stroke="#444" stroke-width="0.7"/>
<text x="113.4" y="584.7" font-size="9" textLength="14.6" lengthAdjust="spacingAndGlyphs">0.32</text>
<rect x="148" y="573.4" width="78.2" height="79.6" fill="none" stroke="#1a1a1a" stroke-width="1.15"/>
<path d="M148 650.5h-2.2M148 647.08h-1.3M148 645.07h-1.3M148 642.55h-1.3M148 640.89h-1.3M148 639.13h-2.2M148 635.71h-1.3M148 633.7h-1.3M148 631.18h-1.3M148 629.52h-1.3M148 627.76h-2.2M148 624.33h-1.3M148 622.33h-1.3M148 619.81h-1.3M148 618.15h-1.3M148 616.39h-2.2M148 612.96h-1.3M148 610.96h-1.3M148 608.44h-1.3M148 606.78h-1.3M148 605.01h-2.2M148 601.59h-1.3M148 599.59h-1.3M148 597.07h-1.3M148 595.4h-1.3M148 593.64h-2.2M148 590.22h-1.3M148 588.22h-1.3M148 585.69h-1.3M148 584.03h-1.3M148 582.27h-2.2M148 578.85h-1.3M148 576.85h-1.3M150.5 653v2.2M153.86 653v1.3M155.83 653v1.3M158.31 653v1.3M159.94 653v1.3M161.67 653v2.2M165.03 653v1.3M167 653v1.3M169.48 653v1.3M171.11 653v1.3M172.84 653v2.2M176.21 653v1.3M178.17 653v1.3M180.65 653v1.3M182.28 653v1.3M184.01 653v2.2M187.38 653v1.3M189.34 653v1.3M191.82 653v1.3M193.46 653v1.3M195.19 653v2.2M198.55 653v1.3M200.52 653v1.3M202.99 653v1.3M204.63 653v1.3M206.36 653v2.2M209.72 653v1.3M211.69 653v1.3M214.17 653v1.3M215.8 653v1.3M217.53 653v2.2M220.89 653v1.3M222.86 653v1.3" stroke="#1a1a1a" stroke-width="0.9"/>
<rect x="182.3" y="592.7" width="42.3" height="34.2" fill="none" stroke="#444" stroke-width="0.7"/>
<text x="197.7" y="584.7" font-size="9" textLength="14.6" lengthAdjust="spacingAndGlyphs">3.58</text>
<ellipse cx="88.8" cy="527" rx="7.8" ry="9" fill="#c4c4c4"/>
<ellipse cx="88.8" cy="527" rx="7.6" ry="8.8" fill="none" stroke="#1a1a1a" stroke-opacity="0.45" stroke-width="0.5"/>
<ellipse cx="88.8" cy="527" rx="6.82" ry="7.9" fill="none" stroke="#1a1a1a" stroke-opacity="0.6" stroke-width="0.5"/>
<ellipse cx="88.8" cy="527" rx="6.04" ry="7" fill="none" stroke="#1a1a1a" stroke-opacity="0.8" stroke-width="0.5"/>
<ellipse cx="88.8" cy="527" rx="5.26" ry="6.1" fill="none" stroke="#1a1a1a" stroke-opacity="0.95" stroke-width="0.5"/>
<ellipse cx="88.8" cy="527" rx="4.48" ry="5.2" fill="none" stroke="#1a1a1a" stroke-opacity="1" stroke-width="0.5"/>
<ellipse cx="88.8" cy="527" rx="3.7" ry="4.3" fill="none" stroke="#1a1a1a" stroke-opacity="1" stroke-width="0.5"/>
<ellipse cx="88.8" cy="527" rx="2.92" ry="3.4" fill="none" stroke="#1a1a1a" stroke-opacity="0.9" stroke-width="0.5"/>
<ellipse cx="88.8" cy="527" rx="2.14" ry="2.5" fill="none" stroke="#1a1a1a" stroke-opacity="0.7" stroke-width="0.5"/>
<ellipse cx="88.8" cy="527" rx="1.36" ry="1.6" fill="none" stroke="#1a1a1a" stroke-opacity="0.5" stroke-width="0.5"/>
<circle cx="88.8" cy="527" r="0.9" fill="#fff" filter="url(#b05)"/>
<ellipse cx="88" cy="612.8" rx="8" ry="9.5" fill="#c4c4c4" transform="rotate(-8 88 612.8)"/>
<ellipse cx="88" cy="612.8" rx="7.8" ry="9.3" fill="none" stroke="#1a1a1a" stroke-opacity="0.45" stroke-width="0.5" transform="rotate(-8 88 612.8)"/>
<ellipse cx="88" cy="612.8" rx="7" ry="8.35" fill="none" stroke="#1a1a1a" stroke-opacity="0.6" stroke-width="0.5" transform="rotate(-8 88 612.8)"/>
<ellipse cx="88" cy="612.8" rx="6.2" ry="7.4" fill="none" stroke="#1a1a1a" stroke-opacity="0.8" stroke-width="0.5" transform="rotate(-8 88 612.8)"/>
<ellipse cx="88" cy="612.8" rx="5.4" ry="6.45" fill="none" stroke="#1a1a1a" stroke-opacity="0.95" stroke-width="0.5" transform="rotate(-8 88 612.8)"/>
<ellipse cx="88" cy="612.8" rx="4.6" ry="5.5" fill="none" stroke="#1a1a1a" stroke-opacity="1" stroke-width="0.5" transform="rotate(-8 88 612.8)"/>
<ellipse cx="88" cy="612.8" rx="3.8" ry="4.55" fill="none" stroke="#1a1a1a" stroke-opacity="1" stroke-width="0.5" transform="rotate(-8 88 612.8)"/>
<ellipse cx="88" cy="612.8" rx="3" ry="3.6" fill="none" stroke="#1a1a1a" stroke-opacity="0.9" stroke-width="0.5" transform="rotate(-8 88 612.8)"/>
<ellipse cx="88" cy="612.8" rx="2.2" ry="2.65" fill="none" stroke="#1a1a1a" stroke-opacity="0.7" stroke-width="0.5" transform="rotate(-8 88 612.8)"/>
<ellipse cx="88" cy="612.8" rx="1.4" ry="1.7" fill="none" stroke="#1a1a1a" stroke-opacity="0.5" stroke-width="0.5" transform="rotate(-8 88 612.8)"/>
<ellipse cx="88" cy="612.8" rx="0.8" ry="2.2" fill="#fff" filter="url(#b05)" transform="rotate(-30 88 612.8)"/>
<ellipse cx="173.4" cy="611.1" rx="8.6" ry="9.4" fill="#c4c4c4" transform="rotate(-12 173.4 611.1)"/>
<ellipse cx="173.4" cy="611.1" rx="8.4" ry="9.2" fill="none" stroke="#1a1a1a" stroke-opacity="0.45" stroke-width="0.5" transform="rotate(-12 173.4 611.1)"/>
<ellipse cx="173.4" cy="611.1" rx="7.54" ry="8.26" fill="none" stroke="#1a1a1a" stroke-opacity="0.6" stroke-width="0.5" transform="rotate(-12 173.4 611.1)"/>
<ellipse cx="173.4" cy="611.1" rx="6.68" ry="7.32" fill="none" stroke="#1a1a1a" stroke-opacity="0.8" stroke-width="0.5" transform="rotate(-12 173.4 611.1)"/>
<ellipse cx="173.4" cy="611.1" rx="5.82" ry="6.38" fill="none" stroke="#1a1a1a" stroke-opacity="0.95" stroke-width="0.5" transform="rotate(-12 173.4 611.1)"/>
<ellipse cx="173.4" cy="611.1" rx="4.96" ry="5.44" fill="none" stroke="#1a1a1a" stroke-opacity="1" stroke-width="0.5" transform="rotate(-12 173.4 611.1)"/>
<ellipse cx="173.4" cy="611.1" rx="4.1" ry="4.5" fill="none" stroke="#1a1a1a" stroke-opacity="1" stroke-width="0.5" transform="rotate(-12 173.4 611.1)"/>
<ellipse cx="173.4" cy="611.1" rx="3.24" ry="3.56" fill="none" stroke="#1a1a1a" stroke-opacity="0.9" stroke-width="0.5" transform="rotate(-12 173.4 611.1)"/>
<ellipse cx="173.4" cy="611.1" rx="2.38" ry="2.62" fill="none" stroke="#1a1a1a" stroke-opacity="0.7" stroke-width="0.5" transform="rotate(-12 173.4 611.1)"/>
<ellipse cx="173.4" cy="611.1" rx="1.52" ry="1.68" fill="none" stroke="#1a1a1a" stroke-opacity="0.5" stroke-width="0.5" transform="rotate(-12 173.4 611.1)"/>
<ellipse cx="173.4" cy="611.1" rx="0.8" ry="2.2" fill="#fff" filter="url(#b05)" transform="rotate(-30 173.4 611.1)"/>
<path d="M178 515.5 C 192 515 207.7 517 207.7 525 C 207.7 533 192 534.5 178 534 Z" fill="#e6e6e6" stroke="#555" stroke-width="0.4"/>
<path d="M178 516.64 C 192 516.2 204.14 517.96 204.14 525 C 204.14 532.04 192 533.36 178 532.92 Z" fill="none" stroke="#555" stroke-width="0.4"/>
<path d="M178 517.78 C 192 517.4 200.57 518.92 200.57 525 C 200.57 531.08 192 532.22 178 531.84 Z" fill="none" stroke="#555" stroke-width="0.4"/>
<path d="M178 518.92 C 192 518.6 197.01 519.88 197.01 525 C 197.01 530.12 192 531.08 178 530.76 Z" fill="none" stroke="#555" stroke-width="0.4"/>
<path d="M178 520.06 C 192 519.8 193.44 520.84 193.44 525 C 193.44 529.16 192 529.94 178 529.68 Z" fill="none" stroke="#555" stroke-width="0.4"/>
<path d="M178 521.2 C 192 521 189.88 521.8 189.88 525 C 189.88 528.2 192 528.8 178 528.6 Z" fill="none" stroke="#555" stroke-width="0.4"/>
<ellipse cx="176.6" cy="524.9" rx="9.8" ry="11" fill="#dadada" stroke="#1a1a1a" stroke-opacity="0.85" stroke-width="0.5"/>
<ellipse cx="176.6" cy="524.9" rx="9.02" ry="10.12" fill="none" stroke="#1a1a1a" stroke-opacity="0.85" stroke-width="0.5"/>
<ellipse cx="176.6" cy="524.9" rx="8.23" ry="9.24" fill="none" stroke="#1a1a1a" stroke-opacity="0.85" stroke-width="0.5"/>
<ellipse cx="176.6" cy="524.9" rx="7.45" ry="8.36" fill="none" stroke="#1a1a1a" stroke-opacity="0.85" stroke-width="0.5"/>
<ellipse cx="176.6" cy="524.9" rx="6.66" ry="7.48" fill="none" stroke="#1a1a1a" stroke-opacity="0.85" stroke-width="0.5"/>
<ellipse cx="176.6" cy="524.9" rx="5.88" ry="6.6" fill="none" stroke="#1a1a1a" stroke-opacity="0.85" stroke-width="0.5"/>
<ellipse cx="176.9" cy="525" rx="5.8" ry="7" fill="#c4c4c4" stroke="#111" stroke-width="1.4"/>
<ellipse cx="176.9" cy="525" rx="4.2" ry="5.4" fill="none" stroke="#444" stroke-width="0.4"/>
<ellipse cx="177" cy="523.6" rx="1.3" ry="1.6" fill="#fff" filter="url(#b05)"/>
<path d="M182 524 L186 522.5 L193 524 L186 526 Z" fill="#fff" filter="url(#b05)"/>
<text x="264.4" y="481.6" font-size="9.2" font-style="italic" textLength="67" lengthAdjust="spacingAndGlyphs">In vivo IL-12/18</text>
<text x="285.4" y="495.6" font-size="9.2" font-style="italic" textLength="23" lengthAdjust="spacingAndGlyphs">IFN-&#947;</text>
<line x1="290.5" y1="514.8" x2="290.5" y2="523" stroke="#111" stroke-width="0.9"/>
<line x1="288.5" y1="514.8" x2="292.5" y2="514.8" stroke="#111" stroke-width="0.9"/>
<rect x="286.2" y="522.5" width="8.6" height="44.4" fill="#a8001f"/>
<line x1="304.8" y1="561.9" x2="304.8" y2="564.1" stroke="#111" stroke-width="0.9"/>
<line x1="302.8" y1="561.9" x2="306.8" y2="561.9" stroke="#111" stroke-width="0.9"/>
<rect x="300.8" y="563.6" width="8" height="3.3" fill="#26467f" stroke="#1a3a78" stroke-width="0.6"/>
<line x1="281.1" y1="503.3" x2="281.1" y2="567.4" stroke="#111" stroke-width="1"/>
<line x1="278.5" y1="505.8" x2="281.1" y2="505.8" stroke="#111" stroke-width="0.9"/>
<text x="275.9" y="508.8" font-size="8.7" text-anchor="end">60</text>
<line x1="278.5" y1="526.3" x2="281.1" y2="526.3" stroke="#111" stroke-width="0.9"/>
<text x="275.9" y="529.3" font-size="8.7" text-anchor="end">40</text>
<line x1="278.5" y1="546.5" x2="281.1" y2="546.5" stroke="#111" stroke-width="0.9"/>
<text x="275.9" y="549.5" font-size="8.7" text-anchor="end">20</text>
<line x1="278.5" y1="566.9" x2="281.1" y2="566.9" stroke="#111" stroke-width="0.9"/>
<text x="275.9" y="569.9" font-size="8.7" text-anchor="end">0</text>
<line x1="279.6" y1="516" x2="281.1" y2="516" stroke="#111" stroke-width="0.8"/>
<line x1="279.6" y1="536.4" x2="281.1" y2="536.4" stroke="#111" stroke-width="0.8"/>
<line x1="279.6" y1="556.7" x2="281.1" y2="556.7" stroke="#111" stroke-width="0.8"/>
<line x1="279" y1="566.9" x2="313.7" y2="566.9" stroke="#111" stroke-width="1"/>
<line x1="290.6" y1="566.9" x2="290.6" y2="569.7" stroke="#111" stroke-width="0.9"/>
<line x1="304.6" y1="566.9" x2="304.6" y2="569.7" stroke="#111" stroke-width="0.9"/>
<line x1="290.6" y1="511.2" x2="304.6" y2="511.2" stroke="#333" stroke-width="1"/>
<text x="297.6" y="511.6" font-size="8.2" text-anchor="middle">**</text>
<line x1="290.5" y1="601.2" x2="290.5" y2="607" stroke="#111" stroke-width="0.9"/>
<line x1="288.5" y1="601.2" x2="292.5" y2="601.2" stroke="#111" stroke-width="0.9"/>
<rect x="286.2" y="606.5" width="8.6" height="45.8" fill="#a8001f"/>
<line x1="304.8" y1="642.5" x2="304.8" y2="644.9" stroke="#111" stroke-width="0.9"/>
<line x1="302.8" y1="642.5" x2="306.8" y2="642.5" stroke="#111" stroke-width="0.9"/>
<rect x="300.8" y="644.4" width="8" height="7.9" fill="#26467f" stroke="#1a3a78" stroke-width="0.6"/>
<line x1="281.1" y1="588.7" x2="281.1" y2="652.8" stroke="#111" stroke-width="1"/>
<line x1="278.5" y1="593.1" x2="281.1" y2="593.1" stroke="#111" stroke-width="0.9"/>
<text x="274.3" y="597.4" font-size="7.9" text-anchor="end">1.5x10<tspan dy="-3.6" font-size="5.4">4</tspan></text>
<line x1="278.5" y1="612.3" x2="281.1" y2="612.3" stroke="#111" stroke-width="0.9"/>
<text x="274.3" y="616.6" font-size="7.9" text-anchor="end">1x10<tspan dy="-3.6" font-size="5.4">4</tspan></text>
<line x1="278.5" y1="632.3" x2="281.1" y2="632.3" stroke="#111" stroke-width="0.9"/>
<text x="274.3" y="636.6" font-size="7.9" text-anchor="end">5x10<tspan dy="-3.6" font-size="5.4">3</tspan></text>
<line x1="278.5" y1="652.3" x2="281.1" y2="652.3" stroke="#111" stroke-width="0.9"/>
<text x="275.9" y="655.3" font-size="8.7" text-anchor="end">0</text>
<line x1="279.6" y1="602.7" x2="281.1" y2="602.7" stroke="#111" stroke-width="0.8"/>
<line x1="279.6" y1="622.3" x2="281.1" y2="622.3" stroke="#111" stroke-width="0.8"/>
<line x1="279.6" y1="642.3" x2="281.1" y2="642.3" stroke="#111" stroke-width="0.8"/>
<line x1="279" y1="652.3" x2="313.7" y2="652.3" stroke="#111" stroke-width="1"/>
<line x1="290.6" y1="652.3" x2="290.6" y2="655.1" stroke="#111" stroke-width="0.9"/>
<line x1="304.6" y1="652.3" x2="304.6" y2="655.1" stroke="#111" stroke-width="0.9"/>
<line x1="291.2" y1="596.3" x2="305.4" y2="596.3" stroke="#333" stroke-width="1"/>
<text x="298.3" y="596.7" font-size="8.2" text-anchor="middle">**</text>
<text x="260.6" y="558" font-size="8.8" textLength="48.4" lengthAdjust="spacingAndGlyphs" transform="rotate(-90 260.6 558)">% IFN-&#947;+ NK</text>
<text x="242.4" y="649.2" font-size="8.8" textLength="57.7" lengthAdjust="spacingAndGlyphs" transform="rotate(-90 242.4 649.2)">&#916;MFI IFN-&#947;+ NK</text>
<text x="292.6" y="661.3" font-size="8" text-anchor="end" transform="rotate(-45 292.6 661.3)">Healthy</text>
<text x="306.6" y="661.3" font-size="8" text-anchor="end" transform="rotate(-45 306.6 661.3)">E&#956;-myc</text>
<text x="405.4" y="481.6" font-size="9.2" font-style="italic" textLength="70.8" lengthAdjust="spacingAndGlyphs">In vivo &#945;-GalCer</text>
<text x="387.8" y="496.6" font-size="9.2" textLength="22.6" lengthAdjust="spacingAndGlyphs">IFN-&#947;</text>
<text x="480" y="496.2" font-size="9.2" textLength="26.2" lengthAdjust="spacingAndGlyphs">GzmB</text>
<line x1="379.6" y1="503.3" x2="379.6" y2="567.4" stroke="#111" stroke-width="1"/>
<line x1="377" y1="566.9" x2="379.6" y2="566.9" stroke="#111" stroke-width="0.9"/>
<text x="374.4" y="569.9" font-size="8.7" text-anchor="end">0</text>
<line x1="377" y1="555.14" x2="379.6" y2="555.14" stroke="#111" stroke-width="0.9"/>
<text x="374.4" y="558.14" font-size="8.7" text-anchor="end">5</text>
<line x1="377" y1="543.38" x2="379.6" y2="543.38" stroke="#111" stroke-width="0.9"/>
<text x="374.4" y="546.38" font-size="8.7" text-anchor="end">10</text>
<line x1="377" y1="531.62" x2="379.6" y2="531.62" stroke="#111" stroke-width="0.9"/>
<text x="374.4" y="534.62" font-size="8.7" text-anchor="end">15</text>
<line x1="377" y1="519.86" x2="379.6" y2="519.86" stroke="#111" stroke-width="0.9"/>
<text x="374.4" y="522.86" font-size="8.7" text-anchor="end">20</text>
<line x1="377" y1="508.1" x2="379.6" y2="508.1" stroke="#111" stroke-width="0.9"/>
<text x="374.4" y="511.1" font-size="8.7" text-anchor="end">25</text>
<line x1="379.6" y1="566.9" x2="418.5" y2="566.9" stroke="#111" stroke-width="1"/>
<line x1="391.2" y1="566.9" x2="391.2" y2="569.7" stroke="#111" stroke-width="0.9"/>
<line x1="407.9" y1="566.9" x2="407.9" y2="569.7" stroke="#111" stroke-width="0.9"/>
<line x1="388.7" y1="516.7" x2="407.9" y2="516.7" stroke="#333" stroke-width="1"/>
<text x="398.3" y="514.3" font-size="7.2" text-anchor="middle">ns</text>
<circle cx="390.8" cy="520" r="1.65" fill="none" stroke="#c0264a" stroke-width="0.8"/>
<circle cx="387.7" cy="536.5" r="1.65" fill="none" stroke="#c0264a" stroke-width="0.8"/>
<circle cx="393.8" cy="532.7" r="1.65" fill="none" stroke="#c0264a" stroke-width="0.8"/>
<circle cx="387.3" cy="542.7" r="1.65" fill="none" stroke="#c0264a" stroke-width="0.8"/>
<circle cx="394.4" cy="543.7" r="1.65" fill="none" stroke="#c0264a" stroke-width="0.8"/>
<circle cx="390.8" cy="550.4" r="1.65" fill="none" stroke="#c0264a" stroke-width="0.8"/>
<circle cx="387.7" cy="558.5" r="1.65" fill="none" stroke="#c0264a" stroke-width="0.8"/>
<circle cx="393.5" cy="562.3" r="1.65" fill="none" stroke="#c0264a" stroke-width="0.8"/>
<line x1="386.6" y1="543.85" x2="395.8" y2="543.85" stroke="#111" stroke-width="1"/>
<line x1="391.2" y1="539.15" x2="391.2" y2="548.55" stroke="#111" stroke-width="0.9"/>
<line x1="389" y1="539.15" x2="393.4" y2="539.15" stroke="#111" stroke-width="0.9"/>
<line x1="389" y1="548.55" x2="393.4" y2="548.55" stroke="#111" stroke-width="0.9"/>
<circle cx="407.9" cy="536.9" r="1.75" fill="#1f4a8a"/>
<circle cx="407.9" cy="547.1" r="1.75" fill="#1f4a8a"/>
<circle cx="404.6" cy="556.2" r="1.75" fill="#1f4a8a"/>
<circle cx="407.9" cy="556.2" r="1.75" fill="#1f4a8a"/>
<circle cx="411.2" cy="556.8" r="1.75" fill="#1f4a8a"/>
<circle cx="409.5" cy="559.4" r="1.75" fill="#1f4a8a"/>
<circle cx="405.5" cy="559" r="1.75" fill="#1f4a8a"/>
<circle cx="407.9" cy="564.8" r="1.75" fill="#1f4a8a"/>
<line x1="403.3" y1="554.67" x2="412.5" y2="554.67" stroke="#111" stroke-width="1"/>
<line x1="407.9" y1="551.85" x2="407.9" y2="557.49" stroke="#111" stroke-width="0.9"/>
<line x1="405.7" y1="551.85" x2="410.1" y2="551.85" stroke="#111" stroke-width="0.9"/>
<line x1="405.7" y1="557.49" x2="410.1" y2="557.49" stroke="#111" stroke-width="0.9"/>
<line x1="472.9" y1="503.3" x2="472.9" y2="567.4" stroke="#111" stroke-width="1"/>
<line x1="470.3" y1="566.9" x2="472.9" y2="566.9" stroke="#111" stroke-width="0.9"/>
<text x="467.7" y="569.9" font-size="8.7" text-anchor="end">0</text>
<line x1="470.3" y1="551.73" x2="472.9" y2="551.73" stroke="#111" stroke-width="0.9"/>
<text x="467.7" y="554.73" font-size="8.7" text-anchor="end">5</text>
<line x1="470.3" y1="536.55" x2="472.9" y2="536.55" stroke="#111" stroke-width="0.9"/>
<text x="467.7" y="539.55" font-size="8.7" text-anchor="end">10</text>
<line x1="470.3" y1="521.38" x2="472.9" y2="521.38" stroke="#111" stroke-width="0.9"/>
<text x="467.7" y="524.38" font-size="8.7" text-anchor="end">15</text>
<line x1="470.3" y1="506.2" x2="472.9" y2="506.2" stroke="#111" stroke-width="0.9"/>
<text x="467.7" y="509.2" font-size="8.7" text-anchor="end">20</text>
<line x1="470.4" y1="566.9" x2="512.3" y2="566.9" stroke="#111" stroke-width="1"/>
<line x1="485" y1="566.9" x2="485" y2="569.7" stroke="#111" stroke-width="0.9"/>
<line x1="501.7" y1="566.9" x2="501.7" y2="569.7" stroke="#111" stroke-width="0.9"/>
<line x1="484.4" y1="507.1" x2="504" y2="507.1" stroke="#333" stroke-width="1"/>
<text x="494.2" y="507.5" font-size="8.2" text-anchor="middle">**</text>
<circle cx="485" cy="511" r="1.65" fill="none" stroke="#c0264a" stroke-width="0.8"/>
<circle cx="485" cy="531.5" r="1.65" fill="none" stroke="#c0264a" stroke-width="0.8"/>
<circle cx="485" cy="538.8" r="1.65" fill="none" stroke="#c0264a" stroke-width="0.8"/>
<circle cx="485" cy="544.6" r="1.65" fill="none" stroke="#c0264a" stroke-width="0.8"/>
<circle cx="481.9" cy="549.8" r="1.65" fill="none" stroke="#c0264a" stroke-width="0.8"/>
<circle cx="487.7" cy="554.2" r="1.65" fill="none" stroke="#c0264a" stroke-width="0.8"/>
<circle cx="481.9" cy="560.6" r="1.65" fill="none" stroke="#c0264a" stroke-width="0.8"/>
<circle cx="487.7" cy="563.8" r="1.65" fill="none" stroke="#c0264a" stroke-width="0.8"/>
<line x1="480.4" y1="544.14" x2="489.6" y2="544.14" stroke="#111" stroke-width="1"/>
<line x1="485" y1="538.07" x2="485" y2="550.21" stroke="#111" stroke-width="0.9"/>
<line x1="482.8" y1="538.07" x2="487.2" y2="538.07" stroke="#111" stroke-width="0.9"/>
<line x1="482.8" y1="550.21" x2="487.2" y2="550.21" stroke="#111" stroke-width="0.9"/>
<circle cx="498.5" cy="564.5" r="1.75" fill="#1f4a8a"/>
<circle cx="500.5" cy="565" r="1.75" fill="#1f4a8a"/>
<circle cx="502.5" cy="564" r="1.75" fill="#1f4a8a"/>
<circle cx="504.5" cy="564.8" r="1.75" fill="#1f4a8a"/>
<circle cx="501.7" cy="563.5" r="1.75" fill="#1f4a8a"/>
<circle cx="499.5" cy="565.8" r="1.75" fill="#1f4a8a"/>
<circle cx="503.5" cy="566" r="1.75" fill="#1f4a8a"/>
<circle cx="505.5" cy="565.5" r="1.75" fill="#1f4a8a"/>
<circle cx="497.8" cy="565.5" r="1.75" fill="#1f4a8a"/>
<line x1="497.1" y1="564.47" x2="506.3" y2="564.47" stroke="#111" stroke-width="1"/>
<line x1="501.7" y1="564.02" x2="501.7" y2="564.93" stroke="#111" stroke-width="0.9"/>
<line x1="499.5" y1="564.02" x2="503.9" y2="564.02" stroke="#111" stroke-width="0.9"/>
<line x1="499.5" y1="564.93" x2="503.9" y2="564.93" stroke="#111" stroke-width="0.9"/>
<line x1="379.6" y1="591.9" x2="379.6" y2="653" stroke="#111" stroke-width="1"/>
<line x1="377" y1="652.5" x2="379.6" y2="652.5" stroke="#111" stroke-width="0.9"/>
<text x="374.4" y="655.5" font-size="8.7" text-anchor="end">0</text>
<line x1="377" y1="635" x2="379.6" y2="635" stroke="#111" stroke-width="0.9"/>
<text x="372.8" y="639.3" font-size="7.9" text-anchor="end">1x10<tspan dy="-3.6" font-size="5.4">4</tspan></text>
<line x1="377" y1="617.5" x2="379.6" y2="617.5" stroke="#111" stroke-width="0.9"/>
<text x="372.8" y="621.8" font-size="7.9" text-anchor="end">2x10<tspan dy="-3.6" font-size="5.4">4</tspan></text>
<line x1="377" y1="600" x2="379.6" y2="600" stroke="#111" stroke-width="0.9"/>
<text x="372.8" y="604.3" font-size="7.9" text-anchor="end">3x10<tspan dy="-3.6" font-size="5.4">4</tspan></text>
<line x1="377.1" y1="652.5" x2="418.5" y2="652.5" stroke="#111" stroke-width="1"/>
<line x1="391.2" y1="652.5" x2="391.2" y2="655.3" stroke="#111" stroke-width="0.9"/>
<line x1="407.9" y1="652.5" x2="407.9" y2="655.3" stroke="#111" stroke-width="0.9"/>
<line x1="390.6" y1="596.2" x2="409.2" y2="596.2" stroke="#333" stroke-width="1"/>
<text x="399.9" y="596.6" font-size="8.2" text-anchor="middle">***</text>
<circle cx="391.2" cy="601" r="1.65" fill="none" stroke="#c0264a" stroke-width="0.8"/>
<circle cx="391.9" cy="606.2" r="1.65" fill="none" stroke="#c0264a" stroke-width="0.8"/>
<circle cx="389.6" cy="609.6" r="1.65" fill="none" stroke="#c0264a" stroke-width="0.8"/>
<circle cx="387.3" cy="611.9" r="1.65" fill="none" stroke="#c0264a" stroke-width="0.8"/>
<circle cx="393.5" cy="611.9" r="1.65" fill="none" stroke="#c0264a" stroke-width="0.8"/>
<circle cx="394.4" cy="615.8" r="1.65" fill="none" stroke="#c0264a" stroke-width="0.8"/>
<circle cx="391.2" cy="615.4" r="1.65" fill="none" stroke="#c0264a" stroke-width="0.8"/>
<circle cx="390.8" cy="620.6" r="1.65" fill="none" stroke="#c0264a" stroke-width="0.8"/>
<line x1="386.6" y1="611.38" x2="395.8" y2="611.38" stroke="#111" stroke-width="1"/>
<line x1="391.2" y1="609.27" x2="391.2" y2="613.48" stroke="#111" stroke-width="0.9"/>
<line x1="389" y1="609.27" x2="393.4" y2="609.27" stroke="#111" stroke-width="0.9"/>
<line x1="389" y1="613.48" x2="393.4" y2="613.48" stroke="#111" stroke-width="0.9"/>
<circle cx="405" cy="634" r="1.75" fill="#1f4a8a"/>
<circle cx="407" cy="632.5" r="1.75" fill="#1f4a8a"/>
<circle cx="409" cy="631.8" r="1.75" fill="#1f4a8a"/>
<circle cx="411" cy="634.5" r="1.75" fill="#1f4a8a"/>
<circle cx="406.5" cy="636.5" r="1.75" fill="#1f4a8a"/>
<circle cx="408.5" cy="637.5" r="1.75" fill="#1f4a8a"/>
<circle cx="410.5" cy="638.5" r="1.75" fill="#1f4a8a"/>
<circle cx="404.5" cy="635.5" r="1.75" fill="#1f4a8a"/>
<circle cx="408" cy="634.5" r="1.75" fill="#1f4a8a"/>
<line x1="403.3" y1="635.35" x2="412.5" y2="635.35" stroke="#111" stroke-width="1"/>
<line x1="407.9" y1="634.65" x2="407.9" y2="636.05" stroke="#111" stroke-width="0.9"/>
<line x1="405.7" y1="634.65" x2="410.1" y2="634.65" stroke="#111" stroke-width="0.9"/>
<line x1="405.7" y1="636.05" x2="410.1" y2="636.05" stroke="#111" stroke-width="0.9"/>
<line x1="472.9" y1="589.4" x2="472.9" y2="653" stroke="#111" stroke-width="1"/>
<line x1="470.3" y1="652.5" x2="472.9" y2="652.5" stroke="#111" stroke-width="0.9"/>
<text x="467.7" y="655.5" font-size="8.7" text-anchor="end">0</text>
<line x1="470.3" y1="632.57" x2="472.9" y2="632.57" stroke="#111" stroke-width="0.9"/>
<text x="466.1" y="636.87" font-size="7.9" text-anchor="end">5x10<tspan dy="-3.6" font-size="5.4">2</tspan></text>
<line x1="470.3" y1="612.63" x2="472.9" y2="612.63" stroke="#111" stroke-width="0.9"/>
<text x="466.1" y="616.93" font-size="7.9" text-anchor="end">1x10<tspan dy="-3.6" font-size="5.4">3</tspan></text>
<line x1="470.3" y1="592.69" x2="472.9" y2="592.69" stroke="#111" stroke-width="0.9"/>
<text x="466.1" y="596.99" font-size="7.9" text-anchor="end">1.5x10<tspan dy="-3.6" font-size="5.4">3</tspan></text>
<line x1="470.4" y1="652.5" x2="512.7" y2="652.5" stroke="#111" stroke-width="1"/>
<line x1="485" y1="652.5" x2="485" y2="655.3" stroke="#111" stroke-width="0.9"/>
<line x1="501.7" y1="652.5" x2="501.7" y2="655.3" stroke="#111" stroke-width="0.9"/>
<line x1="485" y1="600.4" x2="504.2" y2="600.4" stroke="#333" stroke-width="1"/>
<text x="494.6" y="600.8" font-size="8.2" text-anchor="middle">***</text>
<circle cx="485" cy="608.7" r="1.65" fill="none" stroke="#c0264a" stroke-width="0.8"/>
<circle cx="485" cy="617.7" r="1.65" fill="none" stroke="#c0264a" stroke-width="0.8"/>
<circle cx="487.7" cy="619.6" r="1.65" fill="none" stroke="#c0264a" stroke-width="0.8"/>
<circle cx="481.5" cy="622.1" r="1.65" fill="none" stroke="#c0264a" stroke-width="0.8"/>
<circle cx="486.9" cy="625.4" r="1.65" fill="none" stroke="#c0264a" stroke-width="0.8"/>
<circle cx="484.4" cy="626.5" r="1.65" fill="none" stroke="#c0264a" stroke-width="0.8"/>
<circle cx="483.8" cy="632.7" r="1.65" fill="none" stroke="#c0264a" stroke-width="0.8"/>
<circle cx="485" cy="637.5" r="1.65" fill="none" stroke="#c0264a" stroke-width="0.8"/>
<line x1="480.4" y1="624.59" x2="489.6" y2="624.59" stroke="#111" stroke-width="1"/>
<line x1="485" y1="621.6" x2="485" y2="627.58" stroke="#111" stroke-width="0.9"/>
<line x1="482.8" y1="621.6" x2="487.2" y2="621.6" stroke="#111" stroke-width="0.9"/>
<line x1="482.8" y1="627.58" x2="487.2" y2="627.58" stroke="#111" stroke-width="0.9"/>
<circle cx="497.5" cy="645" r="1.75" fill="#1f4a8a"/>
<circle cx="499.5" cy="644" r="1.75" fill="#1f4a8a"/>
<circle cx="501.5" cy="643.5" r="1.75" fill="#1f4a8a"/>
<circle cx="503.5" cy="644.5" r="1.75" fill="#1f4a8a"/>
<circle cx="505.5" cy="645.5" r="1.75" fill="#1f4a8a"/>
<circle cx="498.5" cy="646.5" r="1.75" fill="#1f4a8a"/>
<circle cx="500.5" cy="646.8" r="1.75" fill="#1f4a8a"/>
<circle cx="502.5" cy="646" r="1.75" fill="#1f4a8a"/>
<circle cx="504.5" cy="647" r="1.75" fill="#1f4a8a"/>
<line x1="497.1" y1="645.32" x2="506.3" y2="645.32" stroke="#111" stroke-width="1"/>
<line x1="501.7" y1="644.92" x2="501.7" y2="645.72" stroke="#111" stroke-width="0.9"/>
<line x1="499.5" y1="644.92" x2="503.9" y2="644.92" stroke="#111" stroke-width="0.9"/>
<line x1="499.5" y1="645.72" x2="503.9" y2="645.72" stroke="#111" stroke-width="0.9"/>
<text x="359.8" y="557.1" font-size="8.8" textLength="44.2" lengthAdjust="spacingAndGlyphs" transform="rotate(-90 359.8 557.1)">% IFN-&#947;+ NK</text>
<text x="453.7" y="558" font-size="8.8" textLength="47" lengthAdjust="spacingAndGlyphs" transform="rotate(-90 453.7 558)">% GzmB+ NK</text>
<text x="349.2" y="650" font-size="8.8" textLength="56.7" lengthAdjust="spacingAndGlyphs" transform="rotate(-90 349.2 650)">&#916;MFI IFN-&#947;+ NK</text>
<text x="435.4" y="649" font-size="8.8" textLength="54.8" lengthAdjust="spacingAndGlyphs" transform="rotate(-90 435.4 649)">&#916;MFI GzmB NK</text>
<text x="393.2" y="661.5" font-size="8" text-anchor="end" transform="rotate(-45 393.2 661.5)">Healthy</text>
<text x="409.9" y="661.5" font-size="8" text-anchor="end" transform="rotate(-45 409.9 661.5)">E&#956;-myc</text>
<text x="487" y="661.5" font-size="8" text-anchor="end" transform="rotate(-45 487 661.5)">Healthy</text>
<text x="503.7" y="661.5" font-size="8" text-anchor="end" transform="rotate(-45 503.7 661.5)">E&#956;-myc</text>
</svg>
</body></html>
